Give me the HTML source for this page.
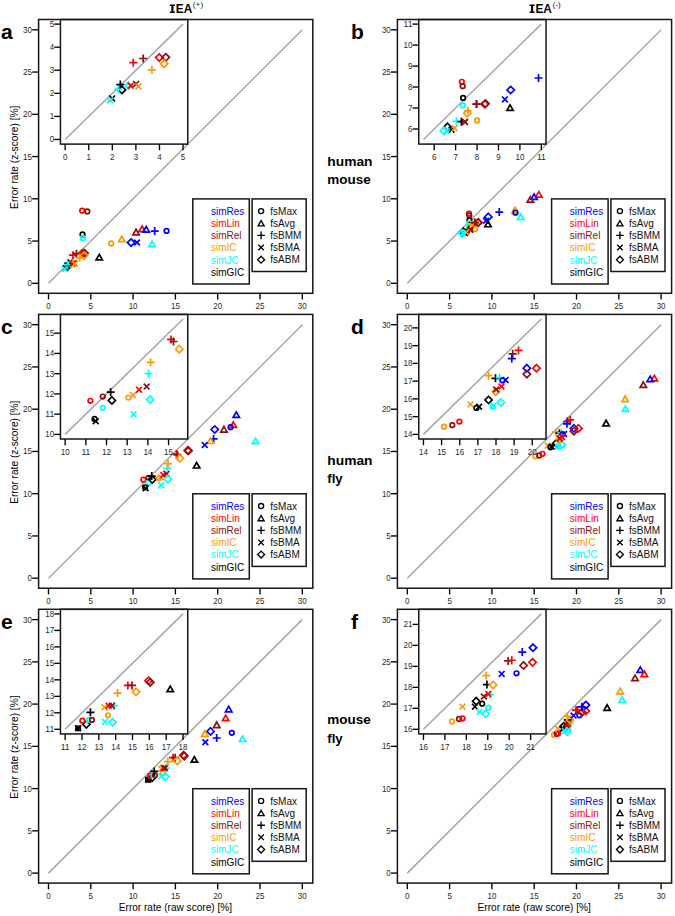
<!DOCTYPE html><html><head><meta charset="utf-8"><style>html,body{margin:0;padding:0;background:#fff;}svg{display:block;}text{font-family:"Liberation Sans",sans-serif;}</style></head><body>
<svg width="675" height="916" viewBox="0 0 675 916">
<rect width="675" height="916" fill="#fff"/>
<clipPath id="cma"><rect x="38.6" y="19.5" width="274.2" height="273.8"/></clipPath>
<line x1="48.50" y1="283.30" x2="302.30" y2="29.80" stroke="#a6a6a6" stroke-width="1.5"/>
<g clip-path="url(#cma)">
<path d="M68.95 255.16H76.95M72.95 251.16V259.16" stroke="#FF0000" stroke-width="1.7" fill="none"/>
<path d="M72.50 253.64H80.50M76.50 249.64V257.64" stroke="#8B1010" stroke-width="1.7" fill="none"/>
<path d="M82.26 249.65L85.91 253.30L82.26 256.95L78.61 253.30Z" stroke="#FF0000" stroke-width="1.7" fill="none" stroke-linejoin="miter"/>
<path d="M84.62 249.57L88.27 253.22L84.62 256.87L80.97 253.22Z" stroke="#8B1010" stroke-width="1.7" fill="none" stroke-linejoin="miter"/>
<path d="M84.03 251.93L87.68 255.58L84.03 259.23L80.38 255.58Z" stroke="#FF9900" stroke-width="1.7" fill="none" stroke-linejoin="miter"/>
<path d="M75.63 257.78H83.63M79.63 253.78V261.78" stroke="#FF9900" stroke-width="1.7" fill="none"/>
<path d="M64.30 263.19H72.30M68.30 259.19V267.19" stroke="#000000" stroke-width="1.7" fill="none"/>
<path d="M68.89 261.48L72.54 265.13L68.89 268.78L65.24 265.13Z" stroke="#000000" stroke-width="1.7" fill="none" stroke-linejoin="miter"/>
<path d="M63.53 264.96H71.53M67.53 260.96V268.96" stroke="#00FFFF" stroke-width="1.7" fill="none"/>
<path d="M71.26 259.96L74.91 263.61L71.26 267.26L67.61 263.61Z" stroke="#00FFFF" stroke-width="1.7" fill="none" stroke-linejoin="miter"/>
<path d="M69.12 260.71L74.92 266.51M69.12 266.51L74.92 260.71" stroke="#FF0000" stroke-width="1.7" fill="none"/>
<path d="M71.06 260.04L76.86 265.84M71.06 265.84L76.86 260.04" stroke="#8B1010" stroke-width="1.7" fill="none"/>
<path d="M71.91 260.97L77.71 266.76M71.91 266.76L77.71 260.97" stroke="#FF9900" stroke-width="1.7" fill="none"/>
<path d="M62.44 265.36L68.24 271.16M62.44 271.16L68.24 265.36" stroke="#000000" stroke-width="1.7" fill="none"/>
<path d="M61.76 266.12L67.56 271.92M61.76 271.92L67.56 266.12" stroke="#00FFFF" stroke-width="1.7" fill="none"/>
<circle cx="82.17" cy="210.63" r="2.30" fill="none" stroke="#FF0000" stroke-width="1.7"/>
<circle cx="87.33" cy="211.48" r="2.30" fill="none" stroke="#8B1010" stroke-width="1.7"/>
<circle cx="82.51" cy="234.46" r="2.30" fill="none" stroke="#000000" stroke-width="1.7"/>
<circle cx="82.85" cy="238.18" r="2.30" fill="none" stroke="#00FFFF" stroke-width="1.7"/>
<circle cx="111.19" cy="243.50" r="2.30" fill="none" stroke="#FF9900" stroke-width="1.7"/>
<polygon points="121.76,236.16 118.56,241.71 124.97,241.71" fill="none" stroke="#FF9900" stroke-width="1.7" stroke-linejoin="miter"/>
<polygon points="136.06,229.23 132.86,234.78 139.27,234.78" fill="none" stroke="#8B1010" stroke-width="1.7" stroke-linejoin="miter"/>
<polygon points="142.15,226.02 138.95,231.57 145.36,231.57" fill="none" stroke="#FF0000" stroke-width="1.7" stroke-linejoin="miter"/>
<polygon points="146.21,226.53 143.01,232.08 149.42,232.08" fill="none" stroke="#0000FF" stroke-width="1.7" stroke-linejoin="miter"/>
<path d="M150.67 231.08H158.67M154.67 227.08V235.08" stroke="#0000FF" stroke-width="1.7" fill="none"/>
<circle cx="166.52" cy="230.91" r="2.30" fill="none" stroke="#0000FF" stroke-width="1.7"/>
<path d="M131.07 238.92L134.72 242.57L131.07 246.22L127.42 242.57Z" stroke="#0000FF" stroke-width="1.7" fill="none" stroke-linejoin="miter"/>
<path d="M134.09 239.67L139.89 245.47M134.09 245.47L139.89 239.67" stroke="#0000FF" stroke-width="1.7" fill="none"/>
<polygon points="152.05,241.15 148.85,246.70 155.25,246.70" fill="none" stroke="#00FFFF" stroke-width="1.7" stroke-linejoin="miter"/>
<polygon points="99.26,254.41 96.06,259.96 102.46,259.96" fill="none" stroke="#000000" stroke-width="1.7" stroke-linejoin="miter"/>
</g>
<line x1="48.50" y1="293.30" x2="48.50" y2="299.50" stroke="#000" stroke-width="1.35"/>
<text x="48.50" y="309.40" font-size="8.6" text-anchor="middle" font-weight="normal" fill="#2a2a2a"  textLength="4.45" lengthAdjust="spacingAndGlyphs">0</text>
<line x1="32.20" y1="283.30" x2="38.60" y2="283.30" stroke="#000" stroke-width="1.35"/>
<text x="32.00" y="286.30" font-size="8.6" text-anchor="end" font-weight="normal" fill="#2a2a2a"  textLength="4.45" lengthAdjust="spacingAndGlyphs">0</text>
<line x1="90.80" y1="293.30" x2="90.80" y2="299.50" stroke="#000" stroke-width="1.35"/>
<text x="90.80" y="309.40" font-size="8.6" text-anchor="middle" font-weight="normal" fill="#2a2a2a"  textLength="4.45" lengthAdjust="spacingAndGlyphs">5</text>
<line x1="32.20" y1="241.05" x2="38.60" y2="241.05" stroke="#000" stroke-width="1.35"/>
<text x="32.00" y="244.05" font-size="8.6" text-anchor="end" font-weight="normal" fill="#2a2a2a"  textLength="4.45" lengthAdjust="spacingAndGlyphs">5</text>
<line x1="133.10" y1="293.30" x2="133.10" y2="299.50" stroke="#000" stroke-width="1.35"/>
<text x="133.10" y="309.40" font-size="8.6" text-anchor="middle" font-weight="normal" fill="#2a2a2a"  textLength="8.90" lengthAdjust="spacingAndGlyphs">10</text>
<line x1="32.20" y1="198.80" x2="38.60" y2="198.80" stroke="#000" stroke-width="1.35"/>
<text x="32.00" y="201.80" font-size="8.6" text-anchor="end" font-weight="normal" fill="#2a2a2a"  textLength="8.90" lengthAdjust="spacingAndGlyphs">10</text>
<line x1="175.40" y1="293.30" x2="175.40" y2="299.50" stroke="#000" stroke-width="1.35"/>
<text x="175.40" y="309.40" font-size="8.6" text-anchor="middle" font-weight="normal" fill="#2a2a2a"  textLength="8.90" lengthAdjust="spacingAndGlyphs">15</text>
<line x1="32.20" y1="156.55" x2="38.60" y2="156.55" stroke="#000" stroke-width="1.35"/>
<text x="32.00" y="159.55" font-size="8.6" text-anchor="end" font-weight="normal" fill="#2a2a2a"  textLength="8.90" lengthAdjust="spacingAndGlyphs">15</text>
<line x1="217.70" y1="293.30" x2="217.70" y2="299.50" stroke="#000" stroke-width="1.35"/>
<text x="217.70" y="309.40" font-size="8.6" text-anchor="middle" font-weight="normal" fill="#2a2a2a"  textLength="8.90" lengthAdjust="spacingAndGlyphs">20</text>
<line x1="32.20" y1="114.30" x2="38.60" y2="114.30" stroke="#000" stroke-width="1.35"/>
<text x="32.00" y="117.30" font-size="8.6" text-anchor="end" font-weight="normal" fill="#2a2a2a"  textLength="8.90" lengthAdjust="spacingAndGlyphs">20</text>
<line x1="260.00" y1="293.30" x2="260.00" y2="299.50" stroke="#000" stroke-width="1.35"/>
<text x="260.00" y="309.40" font-size="8.6" text-anchor="middle" font-weight="normal" fill="#2a2a2a"  textLength="8.90" lengthAdjust="spacingAndGlyphs">25</text>
<line x1="32.20" y1="72.05" x2="38.60" y2="72.05" stroke="#000" stroke-width="1.35"/>
<text x="32.00" y="75.05" font-size="8.6" text-anchor="end" font-weight="normal" fill="#2a2a2a"  textLength="8.90" lengthAdjust="spacingAndGlyphs">25</text>
<line x1="302.30" y1="293.30" x2="302.30" y2="299.50" stroke="#000" stroke-width="1.35"/>
<text x="302.30" y="309.40" font-size="8.6" text-anchor="middle" font-weight="normal" fill="#2a2a2a"  textLength="8.90" lengthAdjust="spacingAndGlyphs">30</text>
<line x1="32.20" y1="29.80" x2="38.60" y2="29.80" stroke="#000" stroke-width="1.35"/>
<text x="32.00" y="32.80" font-size="8.6" text-anchor="end" font-weight="normal" fill="#2a2a2a"  textLength="8.90" lengthAdjust="spacingAndGlyphs">30</text>
<rect x="60.45" y="19.50" width="127.30" height="124.60" fill="#fff"/>
<clipPath id="cia"><rect x="60.45" y="19.50" width="127.30" height="124.60"/></clipPath>
<line x1="65.16" y1="139.49" x2="183.04" y2="24.11" stroke="#a6a6a6" stroke-width="1.5"/>
<g clip-path="url(#cia)">
<path d="M129.29 62.65H137.29M133.29 58.65V66.65" stroke="#FF0000" stroke-width="1.7" fill="none"/>
<path d="M139.19 58.50H147.19M143.19 54.50V62.50" stroke="#8B1010" stroke-width="1.7" fill="none"/>
<path d="M159.23 53.92L162.88 57.57L159.23 61.22L155.58 57.57Z" stroke="#FF0000" stroke-width="1.7" fill="none" stroke-linejoin="miter"/>
<path d="M165.83 53.69L169.48 57.34L165.83 60.99L162.18 57.34Z" stroke="#8B1010" stroke-width="1.7" fill="none" stroke-linejoin="miter"/>
<path d="M164.18 60.15L167.83 63.80L164.18 67.45L160.53 63.80Z" stroke="#FF9900" stroke-width="1.7" fill="none" stroke-linejoin="miter"/>
<path d="M147.92 69.80H155.92M151.92 65.80V73.80" stroke="#FF9900" stroke-width="1.7" fill="none"/>
<path d="M116.33 84.57H124.33M120.33 80.57V88.57" stroke="#000000" stroke-width="1.7" fill="none"/>
<path d="M121.98 86.23L125.63 89.88L121.98 93.53L118.33 89.88Z" stroke="#000000" stroke-width="1.7" fill="none" stroke-linejoin="miter"/>
<path d="M114.21 89.41H122.21M118.21 85.41V93.41" stroke="#00FFFF" stroke-width="1.7" fill="none"/>
<path d="M128.58 82.07L132.23 85.72L128.58 89.37L124.93 85.72Z" stroke="#00FFFF" stroke-width="1.7" fill="none" stroke-linejoin="miter"/>
<path d="M127.80 82.82L133.60 88.62M127.80 88.62L133.60 82.82" stroke="#FF0000" stroke-width="1.7" fill="none"/>
<path d="M133.22 80.98L139.02 86.78M133.22 86.78L139.02 80.98" stroke="#8B1010" stroke-width="1.7" fill="none"/>
<path d="M135.58 83.51L141.38 89.31M135.58 89.31L141.38 83.51" stroke="#FF9900" stroke-width="1.7" fill="none"/>
<path d="M109.18 95.51L114.98 101.31M109.18 101.31L114.98 95.51" stroke="#000000" stroke-width="1.7" fill="none"/>
<path d="M107.29 97.59L113.09 103.39M107.29 103.39L113.09 97.59" stroke="#00FFFF" stroke-width="1.7" fill="none"/>
</g>
<line x1="65.16" y1="144.10" x2="65.16" y2="150.30" stroke="#000" stroke-width="1.35"/>
<text x="65.16" y="160.20" font-size="8.6" text-anchor="middle" font-weight="normal" fill="#2a2a2a"  textLength="4.45" lengthAdjust="spacingAndGlyphs">0</text>
<line x1="54.25" y1="139.49" x2="60.45" y2="139.49" stroke="#000" stroke-width="1.35"/>
<text x="54.15" y="142.49" font-size="8.6" text-anchor="end" font-weight="normal" fill="#2a2a2a"  textLength="4.45" lengthAdjust="spacingAndGlyphs">0</text>
<line x1="88.74" y1="144.10" x2="88.74" y2="150.30" stroke="#000" stroke-width="1.35"/>
<text x="88.74" y="160.20" font-size="8.6" text-anchor="middle" font-weight="normal" fill="#2a2a2a"  textLength="4.45" lengthAdjust="spacingAndGlyphs">1</text>
<line x1="54.25" y1="116.41" x2="60.45" y2="116.41" stroke="#000" stroke-width="1.35"/>
<text x="54.15" y="119.41" font-size="8.6" text-anchor="end" font-weight="normal" fill="#2a2a2a"  textLength="4.45" lengthAdjust="spacingAndGlyphs">1</text>
<line x1="112.31" y1="144.10" x2="112.31" y2="150.30" stroke="#000" stroke-width="1.35"/>
<text x="112.31" y="160.20" font-size="8.6" text-anchor="middle" font-weight="normal" fill="#2a2a2a"  textLength="4.45" lengthAdjust="spacingAndGlyphs">2</text>
<line x1="54.25" y1="93.34" x2="60.45" y2="93.34" stroke="#000" stroke-width="1.35"/>
<text x="54.15" y="96.34" font-size="8.6" text-anchor="end" font-weight="normal" fill="#2a2a2a"  textLength="4.45" lengthAdjust="spacingAndGlyphs">2</text>
<line x1="135.89" y1="144.10" x2="135.89" y2="150.30" stroke="#000" stroke-width="1.35"/>
<text x="135.89" y="160.20" font-size="8.6" text-anchor="middle" font-weight="normal" fill="#2a2a2a"  textLength="4.45" lengthAdjust="spacingAndGlyphs">3</text>
<line x1="54.25" y1="70.26" x2="60.45" y2="70.26" stroke="#000" stroke-width="1.35"/>
<text x="54.15" y="73.26" font-size="8.6" text-anchor="end" font-weight="normal" fill="#2a2a2a"  textLength="4.45" lengthAdjust="spacingAndGlyphs">3</text>
<line x1="159.46" y1="144.10" x2="159.46" y2="150.30" stroke="#000" stroke-width="1.35"/>
<text x="159.46" y="160.20" font-size="8.6" text-anchor="middle" font-weight="normal" fill="#2a2a2a"  textLength="4.45" lengthAdjust="spacingAndGlyphs">4</text>
<line x1="54.25" y1="47.19" x2="60.45" y2="47.19" stroke="#000" stroke-width="1.35"/>
<text x="54.15" y="50.19" font-size="8.6" text-anchor="end" font-weight="normal" fill="#2a2a2a"  textLength="4.45" lengthAdjust="spacingAndGlyphs">4</text>
<line x1="183.04" y1="144.10" x2="183.04" y2="150.30" stroke="#000" stroke-width="1.35"/>
<text x="183.04" y="160.20" font-size="8.6" text-anchor="middle" font-weight="normal" fill="#2a2a2a"  textLength="4.45" lengthAdjust="spacingAndGlyphs">5</text>
<line x1="54.25" y1="24.11" x2="60.45" y2="24.11" stroke="#000" stroke-width="1.35"/>
<text x="54.15" y="27.11" font-size="8.6" text-anchor="end" font-weight="normal" fill="#2a2a2a"  textLength="4.45" lengthAdjust="spacingAndGlyphs">5</text>
<rect x="60.45" y="19.50" width="127.30" height="124.60" fill="none" stroke="#161616" stroke-width="1.5"/>
<rect x="38.60" y="19.50" width="274.20" height="273.80" fill="none" stroke="#161616" stroke-width="1.5"/>
<rect x="192.80" y="198.90" width="56.50" height="85.10" fill="#fff" stroke="#161616" stroke-width="1.5"/>
<text x="211.00" y="214.70" font-size="10" text-anchor="start" font-weight="normal" fill="#0000FF" >simRes</text>
<text x="211.00" y="226.90" font-size="10" text-anchor="start" font-weight="normal" fill="#FF0000" >simLin</text>
<text x="211.00" y="239.10" font-size="10" text-anchor="start" font-weight="normal" fill="#8B1010" >simRel</text>
<text x="211.00" y="251.30" font-size="10" text-anchor="start" font-weight="normal" fill="#FF9900" >simIC</text>
<text x="211.00" y="263.50" font-size="10" text-anchor="start" font-weight="normal" fill="#00FFFF" >simJC</text>
<text x="211.00" y="275.70" font-size="10" text-anchor="start" font-weight="normal" fill="#000000" >simGIC</text>
<rect x="252.10" y="198.90" width="54.10" height="72.60" fill="#fff" stroke="#161616" stroke-width="1.5"/>
<circle cx="261.10" cy="211.10" r="2.53" fill="none" stroke="#000" stroke-width="1.35"/>
<text x="270.30" y="214.80" font-size="10" text-anchor="start" font-weight="normal" fill="#111" >fsMax</text>
<polygon points="261.10,220.61 258.06,225.89 264.14,225.89" fill="none" stroke="#000" stroke-width="1.35" stroke-linejoin="miter"/>
<text x="270.30" y="226.90" font-size="10" text-anchor="start" font-weight="normal" fill="#111" >fsAvg</text>
<path d="M257.30 235.40H264.90M261.10 231.60V239.20" stroke="#000" stroke-width="1.35" fill="none"/>
<text x="270.30" y="239.00" font-size="10" text-anchor="start" font-weight="normal" fill="#111" >fsBMM</text>
<path d="M258.35 244.80L263.86 250.31M258.35 250.31L263.86 244.80" stroke="#000" stroke-width="1.35" fill="none"/>
<text x="270.30" y="251.10" font-size="10" text-anchor="start" font-weight="normal" fill="#111" >fsBMA</text>
<path d="M261.10 256.23L264.57 259.70L261.10 263.17L257.63 259.70Z" stroke="#000" stroke-width="1.35" fill="none" stroke-linejoin="miter"/>
<text x="270.30" y="263.20" font-size="10" text-anchor="start" font-weight="normal" fill="#111" >fsABM</text>
<clipPath id="cmb"><rect x="397.4" y="19.5" width="274.2" height="273.8"/></clipPath>
<line x1="407.30" y1="283.30" x2="661.10" y2="29.80" stroke="#a6a6a6" stroke-width="1.5"/>
<g clip-path="url(#cmb)">
<circle cx="468.97" cy="213.59" r="2.30" fill="none" stroke="#FF0000" stroke-width="1.7"/>
<circle cx="469.31" cy="215.36" r="2.30" fill="none" stroke="#8B1010" stroke-width="1.7"/>
<circle cx="469.48" cy="220.09" r="2.30" fill="none" stroke="#000000" stroke-width="1.7"/>
<circle cx="469.40" cy="223.14" r="2.30" fill="none" stroke="#00FFFF" stroke-width="1.7"/>
<path d="M467.34 225.25H475.34M471.34 221.25V229.25" stroke="#FF9900" stroke-width="1.7" fill="none"/>
<path d="M471.17 222.61L474.82 226.26L471.17 229.91L467.52 226.26Z" stroke="#FF9900" stroke-width="1.7" fill="none" stroke-linejoin="miter"/>
<path d="M470.64 222.54H478.64M474.64 218.54V226.54" stroke="#FF0000" stroke-width="1.7" fill="none"/>
<path d="M470.90 222.54H478.90M474.90 218.54V226.54" stroke="#8B1010" stroke-width="1.7" fill="none"/>
<path d="M478.03 218.98L481.68 222.63L478.03 226.28L474.38 222.63Z" stroke="#FF0000" stroke-width="1.7" fill="none" stroke-linejoin="miter"/>
<path d="M478.28 218.73L481.93 222.38L478.28 226.03L474.63 222.38Z" stroke="#8B1010" stroke-width="1.7" fill="none" stroke-linejoin="miter"/>
<circle cx="474.98" cy="229.14" r="2.30" fill="none" stroke="#FF9900" stroke-width="1.7"/>
<path d="M462.86 229.47H470.86M466.86 225.47V233.47" stroke="#00FFFF" stroke-width="1.7" fill="none"/>
<path d="M464.80 229.64H472.80M468.80 225.64V233.64" stroke="#000000" stroke-width="1.7" fill="none"/>
<path d="M467.26 226.83L473.06 232.63M467.26 232.63L473.06 226.83" stroke="#FF0000" stroke-width="1.7" fill="none"/>
<path d="M467.34 226.91L473.14 232.71M467.34 232.71L473.14 226.91" stroke="#8B1010" stroke-width="1.7" fill="none"/>
<path d="M463.31 228.11L466.96 231.76L463.31 235.41L459.66 231.76Z" stroke="#000000" stroke-width="1.7" fill="none" stroke-linejoin="miter"/>
<path d="M462.01 230.04L467.81 235.84M462.01 235.84L467.81 230.04" stroke="#000000" stroke-width="1.7" fill="none"/>
<path d="M463.20 229.36L469.00 235.16M463.20 235.16L469.00 229.36" stroke="#FF9900" stroke-width="1.7" fill="none"/>
<path d="M461.87 229.63L465.52 233.28L461.87 236.93L458.22 233.28Z" stroke="#00FFFF" stroke-width="1.7" fill="none" stroke-linejoin="miter"/>
<path d="M459.98 230.55L465.78 236.35M459.98 236.35L465.78 230.55" stroke="#00FFFF" stroke-width="1.7" fill="none"/>
<path d="M495.26 212.07H503.26M499.26 208.07V216.07" stroke="#0000FF" stroke-width="1.7" fill="none"/>
<path d="M488.26 213.23L491.91 216.88L488.26 220.53L484.61 216.88Z" stroke="#0000FF" stroke-width="1.7" fill="none" stroke-linejoin="miter"/>
<path d="M483.08 217.79L488.88 223.59M483.08 223.59L488.88 217.79" stroke="#0000FF" stroke-width="1.7" fill="none"/>
<polygon points="488.01,221.21 484.80,226.76 491.21,226.76" fill="none" stroke="#000000" stroke-width="1.7" stroke-linejoin="miter"/>
<polygon points="538.85,191.63 535.65,197.18 542.06,197.18" fill="none" stroke="#FF0000" stroke-width="1.7" stroke-linejoin="miter"/>
<polygon points="534.12,193.91 530.91,199.46 537.32,199.46" fill="none" stroke="#0000FF" stroke-width="1.7" stroke-linejoin="miter"/>
<polygon points="530.31,196.62 527.10,202.17 533.51,202.17" fill="none" stroke="#8B1010" stroke-width="1.7" stroke-linejoin="miter"/>
<polygon points="515.00,207.26 511.79,212.81 518.20,212.81" fill="none" stroke="#FF9900" stroke-width="1.7" stroke-linejoin="miter"/>
<circle cx="515.50" cy="212.66" r="2.30" fill="none" stroke="#0000FF" stroke-width="1.7"/>
<polygon points="520.75,214.02 517.54,219.57 523.95,219.57" fill="none" stroke="#00FFFF" stroke-width="1.7" stroke-linejoin="miter"/>
</g>
<line x1="407.30" y1="293.30" x2="407.30" y2="299.50" stroke="#000" stroke-width="1.35"/>
<text x="407.30" y="309.40" font-size="8.6" text-anchor="middle" font-weight="normal" fill="#2a2a2a"  textLength="4.45" lengthAdjust="spacingAndGlyphs">0</text>
<line x1="391.00" y1="283.30" x2="397.40" y2="283.30" stroke="#000" stroke-width="1.35"/>
<text x="390.80" y="286.30" font-size="8.6" text-anchor="end" font-weight="normal" fill="#2a2a2a"  textLength="4.45" lengthAdjust="spacingAndGlyphs">0</text>
<line x1="449.60" y1="293.30" x2="449.60" y2="299.50" stroke="#000" stroke-width="1.35"/>
<text x="449.60" y="309.40" font-size="8.6" text-anchor="middle" font-weight="normal" fill="#2a2a2a"  textLength="4.45" lengthAdjust="spacingAndGlyphs">5</text>
<line x1="391.00" y1="241.05" x2="397.40" y2="241.05" stroke="#000" stroke-width="1.35"/>
<text x="390.80" y="244.05" font-size="8.6" text-anchor="end" font-weight="normal" fill="#2a2a2a"  textLength="4.45" lengthAdjust="spacingAndGlyphs">5</text>
<line x1="491.90" y1="293.30" x2="491.90" y2="299.50" stroke="#000" stroke-width="1.35"/>
<text x="491.90" y="309.40" font-size="8.6" text-anchor="middle" font-weight="normal" fill="#2a2a2a"  textLength="8.90" lengthAdjust="spacingAndGlyphs">10</text>
<line x1="391.00" y1="198.80" x2="397.40" y2="198.80" stroke="#000" stroke-width="1.35"/>
<text x="390.80" y="201.80" font-size="8.6" text-anchor="end" font-weight="normal" fill="#2a2a2a"  textLength="8.90" lengthAdjust="spacingAndGlyphs">10</text>
<line x1="534.20" y1="293.30" x2="534.20" y2="299.50" stroke="#000" stroke-width="1.35"/>
<text x="534.20" y="309.40" font-size="8.6" text-anchor="middle" font-weight="normal" fill="#2a2a2a"  textLength="8.90" lengthAdjust="spacingAndGlyphs">15</text>
<line x1="391.00" y1="156.55" x2="397.40" y2="156.55" stroke="#000" stroke-width="1.35"/>
<text x="390.80" y="159.55" font-size="8.6" text-anchor="end" font-weight="normal" fill="#2a2a2a"  textLength="8.90" lengthAdjust="spacingAndGlyphs">15</text>
<line x1="576.50" y1="293.30" x2="576.50" y2="299.50" stroke="#000" stroke-width="1.35"/>
<text x="576.50" y="309.40" font-size="8.6" text-anchor="middle" font-weight="normal" fill="#2a2a2a"  textLength="8.90" lengthAdjust="spacingAndGlyphs">20</text>
<line x1="391.00" y1="114.30" x2="397.40" y2="114.30" stroke="#000" stroke-width="1.35"/>
<text x="390.80" y="117.30" font-size="8.6" text-anchor="end" font-weight="normal" fill="#2a2a2a"  textLength="8.90" lengthAdjust="spacingAndGlyphs">20</text>
<line x1="618.80" y1="293.30" x2="618.80" y2="299.50" stroke="#000" stroke-width="1.35"/>
<text x="618.80" y="309.40" font-size="8.6" text-anchor="middle" font-weight="normal" fill="#2a2a2a"  textLength="8.90" lengthAdjust="spacingAndGlyphs">25</text>
<line x1="391.00" y1="72.05" x2="397.40" y2="72.05" stroke="#000" stroke-width="1.35"/>
<text x="390.80" y="75.05" font-size="8.6" text-anchor="end" font-weight="normal" fill="#2a2a2a"  textLength="8.90" lengthAdjust="spacingAndGlyphs">25</text>
<line x1="661.10" y1="293.30" x2="661.10" y2="299.50" stroke="#000" stroke-width="1.35"/>
<text x="661.10" y="309.40" font-size="8.6" text-anchor="middle" font-weight="normal" fill="#2a2a2a"  textLength="8.90" lengthAdjust="spacingAndGlyphs">30</text>
<line x1="391.00" y1="29.80" x2="397.40" y2="29.80" stroke="#000" stroke-width="1.35"/>
<text x="390.80" y="32.80" font-size="8.6" text-anchor="end" font-weight="normal" fill="#2a2a2a"  textLength="8.90" lengthAdjust="spacingAndGlyphs">30</text>
<rect x="418.75" y="19.50" width="127.30" height="124.60" fill="#fff"/>
<clipPath id="cib"><rect x="418.75" y="19.50" width="127.30" height="124.60"/></clipPath>
<line x1="423.46" y1="139.49" x2="541.34" y2="24.11" stroke="#a6a6a6" stroke-width="1.5"/>
<g clip-path="url(#cib)">
<circle cx="461.83" cy="81.80" r="2.30" fill="none" stroke="#FF0000" stroke-width="1.7"/>
<circle cx="462.68" cy="86.21" r="2.30" fill="none" stroke="#8B1010" stroke-width="1.7"/>
<circle cx="463.11" cy="97.95" r="2.30" fill="none" stroke="#000000" stroke-width="1.7"/>
<circle cx="462.90" cy="105.50" r="2.30" fill="none" stroke="#00FFFF" stroke-width="1.7"/>
<path d="M463.83 110.75H471.83M467.83 106.75V114.75" stroke="#FF9900" stroke-width="1.7" fill="none"/>
<path d="M467.40 109.61L471.05 113.26L467.40 116.91L463.75 113.26Z" stroke="#FF9900" stroke-width="1.7" fill="none" stroke-linejoin="miter"/>
<path d="M472.19 104.04H480.19M476.19 100.04V108.04" stroke="#FF0000" stroke-width="1.7" fill="none"/>
<path d="M472.83 104.04H480.83M476.83 100.04V108.04" stroke="#8B1010" stroke-width="1.7" fill="none"/>
<path d="M484.76 100.59L488.41 104.24L484.76 107.89L481.11 104.24Z" stroke="#FF0000" stroke-width="1.7" fill="none" stroke-linejoin="miter"/>
<path d="M485.40 99.97L489.05 103.62L485.40 107.27L481.75 103.62Z" stroke="#8B1010" stroke-width="1.7" fill="none" stroke-linejoin="miter"/>
<circle cx="477.04" cy="120.40" r="2.30" fill="none" stroke="#FF9900" stroke-width="1.7"/>
<path d="M452.47 121.24H460.47M456.47 117.24V125.24" stroke="#00FFFF" stroke-width="1.7" fill="none"/>
<path d="M457.40 121.66H465.40M461.40 117.66V125.66" stroke="#000000" stroke-width="1.7" fill="none"/>
<path d="M461.93 118.96L467.73 124.76M461.93 124.76L467.73 118.96" stroke="#FF0000" stroke-width="1.7" fill="none"/>
<path d="M462.14 119.17L467.94 124.97M462.14 124.97L467.94 119.17" stroke="#8B1010" stroke-width="1.7" fill="none"/>
<path d="M447.47 123.25L451.12 126.90L447.47 130.55L443.82 126.90Z" stroke="#000000" stroke-width="1.7" fill="none" stroke-linejoin="miter"/>
<path d="M448.64 126.94L454.44 132.74M448.64 132.74L454.44 126.94" stroke="#000000" stroke-width="1.7" fill="none"/>
<path d="M451.64 125.26L457.44 131.06M451.64 131.06L457.44 125.26" stroke="#FF9900" stroke-width="1.7" fill="none"/>
<path d="M443.82 127.03L447.47 130.68L443.82 134.33L440.17 130.68Z" stroke="#00FFFF" stroke-width="1.7" fill="none" stroke-linejoin="miter"/>
<path d="M443.50 128.19L449.30 133.99M443.50 133.99L449.30 128.19" stroke="#00FFFF" stroke-width="1.7" fill="none"/>
<path d="M534.55 78.02H542.55M538.55 74.02V82.02" stroke="#0000FF" stroke-width="1.7" fill="none"/>
<path d="M510.69 86.33L514.34 89.98L510.69 93.63L507.04 89.98Z" stroke="#0000FF" stroke-width="1.7" fill="none" stroke-linejoin="miter"/>
<path d="M502.00 96.52L507.80 102.32M502.00 102.32L507.80 96.52" stroke="#0000FF" stroke-width="1.7" fill="none"/>
<polygon points="510.05,104.83 506.84,110.38 513.25,110.38" fill="none" stroke="#000000" stroke-width="1.7" stroke-linejoin="miter"/>
</g>
<line x1="434.18" y1="144.10" x2="434.18" y2="150.30" stroke="#000" stroke-width="1.35"/>
<text x="434.18" y="160.20" font-size="8.6" text-anchor="middle" font-weight="normal" fill="#2a2a2a"  textLength="4.45" lengthAdjust="spacingAndGlyphs">6</text>
<line x1="412.55" y1="129.00" x2="418.75" y2="129.00" stroke="#000" stroke-width="1.35"/>
<text x="412.45" y="132.00" font-size="8.6" text-anchor="end" font-weight="normal" fill="#2a2a2a"  textLength="4.45" lengthAdjust="spacingAndGlyphs">6</text>
<line x1="455.61" y1="144.10" x2="455.61" y2="150.30" stroke="#000" stroke-width="1.35"/>
<text x="455.61" y="160.20" font-size="8.6" text-anchor="middle" font-weight="normal" fill="#2a2a2a"  textLength="4.45" lengthAdjust="spacingAndGlyphs">7</text>
<line x1="412.55" y1="108.02" x2="418.75" y2="108.02" stroke="#000" stroke-width="1.35"/>
<text x="412.45" y="111.02" font-size="8.6" text-anchor="end" font-weight="normal" fill="#2a2a2a"  textLength="4.45" lengthAdjust="spacingAndGlyphs">7</text>
<line x1="477.04" y1="144.10" x2="477.04" y2="150.30" stroke="#000" stroke-width="1.35"/>
<text x="477.04" y="160.20" font-size="8.6" text-anchor="middle" font-weight="normal" fill="#2a2a2a"  textLength="4.45" lengthAdjust="spacingAndGlyphs">8</text>
<line x1="412.55" y1="87.04" x2="418.75" y2="87.04" stroke="#000" stroke-width="1.35"/>
<text x="412.45" y="90.04" font-size="8.6" text-anchor="end" font-weight="normal" fill="#2a2a2a"  textLength="4.45" lengthAdjust="spacingAndGlyphs">8</text>
<line x1="498.47" y1="144.10" x2="498.47" y2="150.30" stroke="#000" stroke-width="1.35"/>
<text x="498.47" y="160.20" font-size="8.6" text-anchor="middle" font-weight="normal" fill="#2a2a2a"  textLength="4.45" lengthAdjust="spacingAndGlyphs">9</text>
<line x1="412.55" y1="66.07" x2="418.75" y2="66.07" stroke="#000" stroke-width="1.35"/>
<text x="412.45" y="69.07" font-size="8.6" text-anchor="end" font-weight="normal" fill="#2a2a2a"  textLength="4.45" lengthAdjust="spacingAndGlyphs">9</text>
<line x1="519.90" y1="144.10" x2="519.90" y2="150.30" stroke="#000" stroke-width="1.35"/>
<text x="519.90" y="160.20" font-size="8.6" text-anchor="middle" font-weight="normal" fill="#2a2a2a"  textLength="8.90" lengthAdjust="spacingAndGlyphs">10</text>
<line x1="412.55" y1="45.09" x2="418.75" y2="45.09" stroke="#000" stroke-width="1.35"/>
<text x="412.45" y="48.09" font-size="8.6" text-anchor="end" font-weight="normal" fill="#2a2a2a"  textLength="8.90" lengthAdjust="spacingAndGlyphs">10</text>
<line x1="541.34" y1="144.10" x2="541.34" y2="150.30" stroke="#000" stroke-width="1.35"/>
<text x="541.34" y="160.20" font-size="8.6" text-anchor="middle" font-weight="normal" fill="#2a2a2a"  textLength="8.90" lengthAdjust="spacingAndGlyphs">11</text>
<line x1="412.55" y1="24.11" x2="418.75" y2="24.11" stroke="#000" stroke-width="1.35"/>
<text x="412.45" y="27.11" font-size="8.6" text-anchor="end" font-weight="normal" fill="#2a2a2a"  textLength="8.90" lengthAdjust="spacingAndGlyphs">11</text>
<rect x="418.75" y="19.50" width="127.30" height="124.60" fill="none" stroke="#161616" stroke-width="1.5"/>
<rect x="397.40" y="19.50" width="274.20" height="273.80" fill="none" stroke="#161616" stroke-width="1.5"/>
<rect x="551.60" y="198.90" width="56.50" height="85.10" fill="#fff" stroke="#161616" stroke-width="1.5"/>
<text x="569.80" y="214.70" font-size="10" text-anchor="start" font-weight="normal" fill="#0000FF" >simRes</text>
<text x="569.80" y="226.90" font-size="10" text-anchor="start" font-weight="normal" fill="#FF0000" >simLin</text>
<text x="569.80" y="239.10" font-size="10" text-anchor="start" font-weight="normal" fill="#8B1010" >simRel</text>
<text x="569.80" y="251.30" font-size="10" text-anchor="start" font-weight="normal" fill="#FF9900" >simIC</text>
<text x="569.80" y="263.50" font-size="10" text-anchor="start" font-weight="normal" fill="#00FFFF" >simJC</text>
<text x="569.80" y="275.70" font-size="10" text-anchor="start" font-weight="normal" fill="#000000" >simGIC</text>
<rect x="610.90" y="198.90" width="54.10" height="72.60" fill="#fff" stroke="#161616" stroke-width="1.5"/>
<circle cx="619.90" cy="211.10" r="2.53" fill="none" stroke="#000" stroke-width="1.35"/>
<text x="629.10" y="214.80" font-size="10" text-anchor="start" font-weight="normal" fill="#111" >fsMax</text>
<polygon points="619.90,220.61 616.86,225.89 622.94,225.89" fill="none" stroke="#000" stroke-width="1.35" stroke-linejoin="miter"/>
<text x="629.10" y="226.90" font-size="10" text-anchor="start" font-weight="normal" fill="#111" >fsAvg</text>
<path d="M616.10 235.40H623.70M619.90 231.60V239.20" stroke="#000" stroke-width="1.35" fill="none"/>
<text x="629.10" y="239.00" font-size="10" text-anchor="start" font-weight="normal" fill="#111" >fsBMM</text>
<path d="M617.14 244.80L622.65 250.31M617.14 250.31L622.65 244.80" stroke="#000" stroke-width="1.35" fill="none"/>
<text x="629.10" y="251.10" font-size="10" text-anchor="start" font-weight="normal" fill="#111" >fsBMA</text>
<path d="M619.90 256.23L623.37 259.70L619.90 263.17L616.43 259.70Z" stroke="#000" stroke-width="1.35" fill="none" stroke-linejoin="miter"/>
<text x="629.10" y="263.20" font-size="10" text-anchor="start" font-weight="normal" fill="#111" >fsABM</text>
<clipPath id="cmc"><rect x="38.6" y="314.4" width="274.2" height="273.8"/></clipPath>
<line x1="48.50" y1="578.20" x2="302.30" y2="324.70" stroke="#a6a6a6" stroke-width="1.5"/>
<g clip-path="url(#cmc)">
<circle cx="143.42" cy="479.67" r="2.30" fill="none" stroke="#FF0000" stroke-width="1.7"/>
<circle cx="148.50" cy="477.90" r="2.30" fill="none" stroke="#8B1010" stroke-width="1.7"/>
<circle cx="148.50" cy="482.63" r="2.30" fill="none" stroke="#00FFFF" stroke-width="1.7"/>
<circle cx="145.11" cy="487.28" r="2.30" fill="none" stroke="#000000" stroke-width="1.7"/>
<path d="M142.72 485.31L148.52 491.11M142.72 491.11L148.52 485.31" stroke="#000000" stroke-width="1.7" fill="none"/>
<path d="M147.71 476.04H155.71M151.71 472.04V480.04" stroke="#000000" stroke-width="1.7" fill="none"/>
<path d="M152.22 475.85L155.87 479.50L152.22 483.15L148.57 479.50Z" stroke="#000000" stroke-width="1.7" fill="none" stroke-linejoin="miter"/>
<circle cx="158.99" cy="478.32" r="2.30" fill="none" stroke="#FF9900" stroke-width="1.7"/>
<path d="M157.95 474.41L163.75 480.21M157.95 480.21L163.75 474.41" stroke="#FF9900" stroke-width="1.7" fill="none"/>
<path d="M160.40 472.13L166.20 477.93M160.40 477.93L166.20 472.13" stroke="#FF0000" stroke-width="1.7" fill="none"/>
<path d="M163.53 470.86L169.33 476.66M163.53 476.66L169.33 470.86" stroke="#8B1010" stroke-width="1.7" fill="none"/>
<path d="M158.20 482.35L164.00 488.15M158.20 488.15L164.00 482.35" stroke="#00FFFF" stroke-width="1.7" fill="none"/>
<path d="M167.87 475.52L171.52 479.17L167.87 482.82L164.22 479.17Z" stroke="#00FFFF" stroke-width="1.7" fill="none" stroke-linejoin="miter"/>
<path d="M163.19 468.35H171.19M167.19 464.35V472.35" stroke="#00FFFF" stroke-width="1.7" fill="none"/>
<path d="M164.04 463.62H172.04M168.04 459.62V467.62" stroke="#FF9900" stroke-width="1.7" fill="none"/>
<path d="M172.42 454.07H180.42M176.42 450.07V458.07" stroke="#FF0000" stroke-width="1.7" fill="none"/>
<path d="M173.43 454.91H181.43M177.43 450.91V458.91" stroke="#8B1010" stroke-width="1.7" fill="none"/>
<path d="M179.80 454.48L183.45 458.13L179.80 461.78L176.15 458.13Z" stroke="#FF9900" stroke-width="1.7" fill="none" stroke-linejoin="miter"/>
<polygon points="236.31,411.92 233.11,417.47 239.52,417.47" fill="none" stroke="#0000FF" stroke-width="1.7" stroke-linejoin="miter"/>
<polygon points="233.27,421.89 230.06,427.44 236.47,427.44" fill="none" stroke="#FF0000" stroke-width="1.7" stroke-linejoin="miter"/>
<circle cx="230.56" cy="427.20" r="2.30" fill="none" stroke="#0000FF" stroke-width="1.7"/>
<polygon points="223.96,426.54 220.76,432.09 227.16,432.09" fill="none" stroke="#8B1010" stroke-width="1.7" stroke-linejoin="miter"/>
<path d="M214.74 425.83L218.39 429.48L214.74 433.13L211.09 429.48Z" stroke="#0000FF" stroke-width="1.7" fill="none" stroke-linejoin="miter"/>
<path d="M209.64 438.78H217.64M213.64 434.78V442.78" stroke="#0000FF" stroke-width="1.7" fill="none"/>
<polygon points="210.51,437.94 207.30,443.49 213.71,443.49" fill="none" stroke="#FF9900" stroke-width="1.7" stroke-linejoin="miter"/>
<path d="M201.86 442.13L207.66 447.93M201.86 447.93L207.66 442.13" stroke="#0000FF" stroke-width="1.7" fill="none"/>
<polygon points="255.43,438.11 252.23,443.66 258.64,443.66" fill="none" stroke="#00FFFF" stroke-width="1.7" stroke-linejoin="miter"/>
<path d="M187.67 446.79L191.32 450.44L187.67 454.09L184.02 450.44Z" stroke="#FF0000" stroke-width="1.7" fill="none" stroke-linejoin="miter"/>
<path d="M188.51 447.12L192.16 450.77L188.51 454.42L184.86 450.77Z" stroke="#8B1010" stroke-width="1.7" fill="none" stroke-linejoin="miter"/>
<polygon points="196.63,462.45 193.43,468.00 199.84,468.00" fill="none" stroke="#000000" stroke-width="1.7" stroke-linejoin="miter"/>
</g>
<line x1="48.50" y1="588.20" x2="48.50" y2="594.40" stroke="#000" stroke-width="1.35"/>
<text x="48.50" y="604.30" font-size="8.6" text-anchor="middle" font-weight="normal" fill="#2a2a2a"  textLength="4.45" lengthAdjust="spacingAndGlyphs">0</text>
<line x1="32.20" y1="578.20" x2="38.60" y2="578.20" stroke="#000" stroke-width="1.35"/>
<text x="32.00" y="581.20" font-size="8.6" text-anchor="end" font-weight="normal" fill="#2a2a2a"  textLength="4.45" lengthAdjust="spacingAndGlyphs">0</text>
<line x1="90.80" y1="588.20" x2="90.80" y2="594.40" stroke="#000" stroke-width="1.35"/>
<text x="90.80" y="604.30" font-size="8.6" text-anchor="middle" font-weight="normal" fill="#2a2a2a"  textLength="4.45" lengthAdjust="spacingAndGlyphs">5</text>
<line x1="32.20" y1="535.95" x2="38.60" y2="535.95" stroke="#000" stroke-width="1.35"/>
<text x="32.00" y="538.95" font-size="8.6" text-anchor="end" font-weight="normal" fill="#2a2a2a"  textLength="4.45" lengthAdjust="spacingAndGlyphs">5</text>
<line x1="133.10" y1="588.20" x2="133.10" y2="594.40" stroke="#000" stroke-width="1.35"/>
<text x="133.10" y="604.30" font-size="8.6" text-anchor="middle" font-weight="normal" fill="#2a2a2a"  textLength="8.90" lengthAdjust="spacingAndGlyphs">10</text>
<line x1="32.20" y1="493.70" x2="38.60" y2="493.70" stroke="#000" stroke-width="1.35"/>
<text x="32.00" y="496.70" font-size="8.6" text-anchor="end" font-weight="normal" fill="#2a2a2a"  textLength="8.90" lengthAdjust="spacingAndGlyphs">10</text>
<line x1="175.40" y1="588.20" x2="175.40" y2="594.40" stroke="#000" stroke-width="1.35"/>
<text x="175.40" y="604.30" font-size="8.6" text-anchor="middle" font-weight="normal" fill="#2a2a2a"  textLength="8.90" lengthAdjust="spacingAndGlyphs">15</text>
<line x1="32.20" y1="451.45" x2="38.60" y2="451.45" stroke="#000" stroke-width="1.35"/>
<text x="32.00" y="454.45" font-size="8.6" text-anchor="end" font-weight="normal" fill="#2a2a2a"  textLength="8.90" lengthAdjust="spacingAndGlyphs">15</text>
<line x1="217.70" y1="588.20" x2="217.70" y2="594.40" stroke="#000" stroke-width="1.35"/>
<text x="217.70" y="604.30" font-size="8.6" text-anchor="middle" font-weight="normal" fill="#2a2a2a"  textLength="8.90" lengthAdjust="spacingAndGlyphs">20</text>
<line x1="32.20" y1="409.20" x2="38.60" y2="409.20" stroke="#000" stroke-width="1.35"/>
<text x="32.00" y="412.20" font-size="8.6" text-anchor="end" font-weight="normal" fill="#2a2a2a"  textLength="8.90" lengthAdjust="spacingAndGlyphs">20</text>
<line x1="260.00" y1="588.20" x2="260.00" y2="594.40" stroke="#000" stroke-width="1.35"/>
<text x="260.00" y="604.30" font-size="8.6" text-anchor="middle" font-weight="normal" fill="#2a2a2a"  textLength="8.90" lengthAdjust="spacingAndGlyphs">25</text>
<line x1="32.20" y1="366.95" x2="38.60" y2="366.95" stroke="#000" stroke-width="1.35"/>
<text x="32.00" y="369.95" font-size="8.6" text-anchor="end" font-weight="normal" fill="#2a2a2a"  textLength="8.90" lengthAdjust="spacingAndGlyphs">25</text>
<line x1="302.30" y1="588.20" x2="302.30" y2="594.40" stroke="#000" stroke-width="1.35"/>
<text x="302.30" y="604.30" font-size="8.6" text-anchor="middle" font-weight="normal" fill="#2a2a2a"  textLength="8.90" lengthAdjust="spacingAndGlyphs">30</text>
<line x1="32.20" y1="324.70" x2="38.60" y2="324.70" stroke="#000" stroke-width="1.35"/>
<text x="32.00" y="327.70" font-size="8.6" text-anchor="end" font-weight="normal" fill="#2a2a2a"  textLength="8.90" lengthAdjust="spacingAndGlyphs">30</text>
<rect x="60.45" y="314.40" width="127.30" height="124.60" fill="#fff"/>
<clipPath id="cic"><rect x="60.45" y="314.40" width="127.30" height="124.60"/></clipPath>
<line x1="65.16" y1="434.39" x2="183.04" y2="319.01" stroke="#a6a6a6" stroke-width="1.5"/>
<g clip-path="url(#cic)">
<circle cx="90.39" cy="400.79" r="2.30" fill="none" stroke="#FF0000" stroke-width="1.7"/>
<circle cx="102.80" cy="396.54" r="2.30" fill="none" stroke="#8B1010" stroke-width="1.7"/>
<circle cx="102.80" cy="407.87" r="2.30" fill="none" stroke="#00FFFF" stroke-width="1.7"/>
<circle cx="94.53" cy="419.00" r="2.30" fill="none" stroke="#000000" stroke-width="1.7"/>
<path d="M92.87 418.33L98.67 424.13M92.87 424.13L98.67 418.33" stroke="#000000" stroke-width="1.7" fill="none"/>
<path d="M106.66 392.08H114.66M110.66 388.08V396.08" stroke="#000000" stroke-width="1.7" fill="none"/>
<path d="M111.90 396.73L115.55 400.38L111.90 404.03L108.25 400.38Z" stroke="#000000" stroke-width="1.7" fill="none" stroke-linejoin="miter"/>
<circle cx="128.44" cy="397.55" r="2.30" fill="none" stroke="#FF9900" stroke-width="1.7"/>
<path d="M130.09 392.22L135.89 398.02M130.09 398.02L135.89 392.22" stroke="#FF9900" stroke-width="1.7" fill="none"/>
<path d="M136.09 386.75L141.89 392.55M136.09 392.55L141.89 386.75" stroke="#FF0000" stroke-width="1.7" fill="none"/>
<path d="M143.74 383.72L149.54 389.52M143.74 389.52L149.54 383.72" stroke="#8B1010" stroke-width="1.7" fill="none"/>
<path d="M130.71 411.24L136.51 417.04M130.71 417.04L136.51 411.24" stroke="#00FFFF" stroke-width="1.7" fill="none"/>
<path d="M150.16 395.92L153.81 399.57L150.16 403.22L146.51 399.57Z" stroke="#00FFFF" stroke-width="1.7" fill="none" stroke-linejoin="miter"/>
<path d="M144.50 373.66H152.50M148.50 369.66V377.66" stroke="#00FFFF" stroke-width="1.7" fill="none"/>
<path d="M146.57 362.33H154.57M150.57 358.33V366.33" stroke="#FF9900" stroke-width="1.7" fill="none"/>
<path d="M167.04 339.46H175.04M171.04 335.46V343.46" stroke="#FF0000" stroke-width="1.7" fill="none"/>
<path d="M169.52 341.48H177.52M173.52 337.48V345.48" stroke="#8B1010" stroke-width="1.7" fill="none"/>
<path d="M179.31 345.52L182.96 349.17L179.31 352.82L175.66 349.17Z" stroke="#FF9900" stroke-width="1.7" fill="none" stroke-linejoin="miter"/>
</g>
<line x1="65.16" y1="439.00" x2="65.16" y2="445.20" stroke="#000" stroke-width="1.35"/>
<text x="65.16" y="455.10" font-size="8.6" text-anchor="middle" font-weight="normal" fill="#2a2a2a"  textLength="8.90" lengthAdjust="spacingAndGlyphs">10</text>
<line x1="54.25" y1="434.39" x2="60.45" y2="434.39" stroke="#000" stroke-width="1.35"/>
<text x="54.15" y="437.39" font-size="8.6" text-anchor="end" font-weight="normal" fill="#2a2a2a"  textLength="8.90" lengthAdjust="spacingAndGlyphs">10</text>
<line x1="85.84" y1="439.00" x2="85.84" y2="445.20" stroke="#000" stroke-width="1.35"/>
<text x="85.84" y="455.10" font-size="8.6" text-anchor="middle" font-weight="normal" fill="#2a2a2a"  textLength="8.90" lengthAdjust="spacingAndGlyphs">11</text>
<line x1="54.25" y1="414.14" x2="60.45" y2="414.14" stroke="#000" stroke-width="1.35"/>
<text x="54.15" y="417.14" font-size="8.6" text-anchor="end" font-weight="normal" fill="#2a2a2a"  textLength="8.90" lengthAdjust="spacingAndGlyphs">11</text>
<line x1="106.52" y1="439.00" x2="106.52" y2="445.20" stroke="#000" stroke-width="1.35"/>
<text x="106.52" y="455.10" font-size="8.6" text-anchor="middle" font-weight="normal" fill="#2a2a2a"  textLength="8.90" lengthAdjust="spacingAndGlyphs">12</text>
<line x1="54.25" y1="393.90" x2="60.45" y2="393.90" stroke="#000" stroke-width="1.35"/>
<text x="54.15" y="396.90" font-size="8.6" text-anchor="end" font-weight="normal" fill="#2a2a2a"  textLength="8.90" lengthAdjust="spacingAndGlyphs">12</text>
<line x1="127.20" y1="439.00" x2="127.20" y2="445.20" stroke="#000" stroke-width="1.35"/>
<text x="127.20" y="455.10" font-size="8.6" text-anchor="middle" font-weight="normal" fill="#2a2a2a"  textLength="8.90" lengthAdjust="spacingAndGlyphs">13</text>
<line x1="54.25" y1="373.66" x2="60.45" y2="373.66" stroke="#000" stroke-width="1.35"/>
<text x="54.15" y="376.66" font-size="8.6" text-anchor="end" font-weight="normal" fill="#2a2a2a"  textLength="8.90" lengthAdjust="spacingAndGlyphs">13</text>
<line x1="147.88" y1="439.00" x2="147.88" y2="445.20" stroke="#000" stroke-width="1.35"/>
<text x="147.88" y="455.10" font-size="8.6" text-anchor="middle" font-weight="normal" fill="#2a2a2a"  textLength="8.90" lengthAdjust="spacingAndGlyphs">14</text>
<line x1="54.25" y1="353.42" x2="60.45" y2="353.42" stroke="#000" stroke-width="1.35"/>
<text x="54.15" y="356.42" font-size="8.6" text-anchor="end" font-weight="normal" fill="#2a2a2a"  textLength="8.90" lengthAdjust="spacingAndGlyphs">14</text>
<line x1="168.56" y1="439.00" x2="168.56" y2="445.20" stroke="#000" stroke-width="1.35"/>
<text x="168.56" y="455.10" font-size="8.6" text-anchor="middle" font-weight="normal" fill="#2a2a2a"  textLength="8.90" lengthAdjust="spacingAndGlyphs">15</text>
<line x1="54.25" y1="333.18" x2="60.45" y2="333.18" stroke="#000" stroke-width="1.35"/>
<text x="54.15" y="336.18" font-size="8.6" text-anchor="end" font-weight="normal" fill="#2a2a2a"  textLength="8.90" lengthAdjust="spacingAndGlyphs">15</text>
<rect x="60.45" y="314.40" width="127.30" height="124.60" fill="none" stroke="#161616" stroke-width="1.5"/>
<rect x="38.60" y="314.40" width="274.20" height="273.80" fill="none" stroke="#161616" stroke-width="1.5"/>
<rect x="192.80" y="493.80" width="56.50" height="85.10" fill="#fff" stroke="#161616" stroke-width="1.5"/>
<text x="211.00" y="509.60" font-size="10" text-anchor="start" font-weight="normal" fill="#0000FF" >simRes</text>
<text x="211.00" y="521.80" font-size="10" text-anchor="start" font-weight="normal" fill="#FF0000" >simLin</text>
<text x="211.00" y="534.00" font-size="10" text-anchor="start" font-weight="normal" fill="#8B1010" >simRel</text>
<text x="211.00" y="546.20" font-size="10" text-anchor="start" font-weight="normal" fill="#FF9900" >simIC</text>
<text x="211.00" y="558.40" font-size="10" text-anchor="start" font-weight="normal" fill="#00FFFF" >simJC</text>
<text x="211.00" y="570.60" font-size="10" text-anchor="start" font-weight="normal" fill="#000000" >simGIC</text>
<rect x="252.10" y="493.80" width="54.10" height="72.60" fill="#fff" stroke="#161616" stroke-width="1.5"/>
<circle cx="261.10" cy="506.00" r="2.53" fill="none" stroke="#000" stroke-width="1.35"/>
<text x="270.30" y="509.70" font-size="10" text-anchor="start" font-weight="normal" fill="#111" >fsMax</text>
<polygon points="261.10,515.51 258.06,520.79 264.14,520.79" fill="none" stroke="#000" stroke-width="1.35" stroke-linejoin="miter"/>
<text x="270.30" y="521.80" font-size="10" text-anchor="start" font-weight="normal" fill="#111" >fsAvg</text>
<path d="M257.30 530.30H264.90M261.10 526.50V534.10" stroke="#000" stroke-width="1.35" fill="none"/>
<text x="270.30" y="533.90" font-size="10" text-anchor="start" font-weight="normal" fill="#111" >fsBMM</text>
<path d="M258.35 539.70L263.86 545.21M258.35 545.21L263.86 539.70" stroke="#000" stroke-width="1.35" fill="none"/>
<text x="270.30" y="546.00" font-size="10" text-anchor="start" font-weight="normal" fill="#111" >fsBMA</text>
<path d="M261.10 551.13L264.57 554.60L261.10 558.07L257.63 554.60Z" stroke="#000" stroke-width="1.35" fill="none" stroke-linejoin="miter"/>
<text x="270.30" y="558.10" font-size="10" text-anchor="start" font-weight="normal" fill="#111" >fsABM</text>
<clipPath id="cmd"><rect x="397.4" y="314.4" width="274.2" height="273.8"/></clipPath>
<line x1="407.30" y1="578.20" x2="661.10" y2="324.70" stroke="#a6a6a6" stroke-width="1.5"/>
<g clip-path="url(#cmd)">
<circle cx="535.30" cy="456.27" r="2.30" fill="none" stroke="#FF9900" stroke-width="1.7"/>
<circle cx="539.19" cy="455.51" r="2.30" fill="none" stroke="#8B1010" stroke-width="1.7"/>
<circle cx="542.49" cy="453.82" r="2.30" fill="none" stroke="#FF0000" stroke-width="1.7"/>
<path d="M544.84 442.72L550.64 448.52M544.84 448.52L550.64 442.72" stroke="#FF9900" stroke-width="1.7" fill="none"/>
<circle cx="550.44" cy="447.31" r="2.30" fill="none" stroke="#000000" stroke-width="1.7"/>
<path d="M548.81 443.82L554.61 449.62M548.81 449.62L554.61 443.82" stroke="#000000" stroke-width="1.7" fill="none"/>
<path d="M556.11 439.86L559.76 443.51L556.11 447.16L552.46 443.51Z" stroke="#000000" stroke-width="1.7" fill="none" stroke-linejoin="miter"/>
<path d="M555.41 443.31L561.21 449.11M555.41 449.11L561.21 443.31" stroke="#00FFFF" stroke-width="1.7" fill="none"/>
<circle cx="557.97" cy="446.72" r="2.30" fill="none" stroke="#00FFFF" stroke-width="1.7"/>
<path d="M561.86 441.04L565.51 444.69L561.86 448.34L558.21 444.69Z" stroke="#00FFFF" stroke-width="1.7" fill="none" stroke-linejoin="miter"/>
<path d="M552.11 431.93H560.11M556.11 427.93V435.93" stroke="#FF9900" stroke-width="1.7" fill="none"/>
<path d="M555.33 433.20H563.33M559.33 429.20V437.20" stroke="#000000" stroke-width="1.7" fill="none"/>
<path d="M557.27 432.86H565.27M561.27 428.86V436.86" stroke="#00FFFF" stroke-width="1.7" fill="none"/>
<circle cx="562.63" cy="434.21" r="2.30" fill="none" stroke="#0000FF" stroke-width="1.7"/>
<path d="M561.16 431.06L566.96 436.86M561.16 436.86L566.96 431.06" stroke="#0000FF" stroke-width="1.7" fill="none"/>
<path d="M559.41 435.97L563.06 439.62L559.41 443.27L555.76 439.62Z" stroke="#FF9900" stroke-width="1.7" fill="none" stroke-linejoin="miter"/>
<path d="M556.76 435.62L562.56 441.42M556.76 441.42L562.56 435.62" stroke="#8B1010" stroke-width="1.7" fill="none"/>
<path d="M559.22 434.19L565.02 439.99M559.22 439.99L565.02 434.19" stroke="#FF0000" stroke-width="1.7" fill="none"/>
<path d="M563.36 421.54H571.36M567.36 417.54V425.54" stroke="#8B1010" stroke-width="1.7" fill="none"/>
<path d="M566.07 419.93H574.07M570.07 415.93V423.93" stroke="#FF0000" stroke-width="1.7" fill="none"/>
<path d="M562.94 423.82H570.94M566.94 419.82V427.82" stroke="#0000FF" stroke-width="1.7" fill="none"/>
<path d="M573.96 424.73L577.61 428.38L573.96 432.03L570.31 428.38Z" stroke="#0000FF" stroke-width="1.7" fill="none" stroke-linejoin="miter"/>
<path d="M573.96 427.52L577.61 431.17L573.96 434.82L570.31 431.17Z" stroke="#8B1010" stroke-width="1.7" fill="none" stroke-linejoin="miter"/>
<path d="M578.45 424.73L582.10 428.38L578.45 432.03L574.80 428.38Z" stroke="#FF0000" stroke-width="1.7" fill="none" stroke-linejoin="miter"/>
<polygon points="654.33,375.33 651.13,380.88 657.54,380.88" fill="none" stroke="#FF0000" stroke-width="1.7" stroke-linejoin="miter"/>
<polygon points="650.19,376.09 646.98,381.64 653.39,381.64" fill="none" stroke="#0000FF" stroke-width="1.7" stroke-linejoin="miter"/>
<polygon points="643.33,381.92 640.13,387.47 646.54,387.47" fill="none" stroke="#8B1010" stroke-width="1.7" stroke-linejoin="miter"/>
<polygon points="625.14,396.03 621.94,401.58 628.35,401.58" fill="none" stroke="#FF9900" stroke-width="1.7" stroke-linejoin="miter"/>
<polygon points="625.40,405.83 622.19,411.38 628.60,411.38" fill="none" stroke="#00FFFF" stroke-width="1.7" stroke-linejoin="miter"/>
<polygon points="606.11,420.28 602.91,425.83 609.31,425.83" fill="none" stroke="#000000" stroke-width="1.7" stroke-linejoin="miter"/>
</g>
<line x1="407.30" y1="588.20" x2="407.30" y2="594.40" stroke="#000" stroke-width="1.35"/>
<text x="407.30" y="604.30" font-size="8.6" text-anchor="middle" font-weight="normal" fill="#2a2a2a"  textLength="4.45" lengthAdjust="spacingAndGlyphs">0</text>
<line x1="391.00" y1="578.20" x2="397.40" y2="578.20" stroke="#000" stroke-width="1.35"/>
<text x="390.80" y="581.20" font-size="8.6" text-anchor="end" font-weight="normal" fill="#2a2a2a"  textLength="4.45" lengthAdjust="spacingAndGlyphs">0</text>
<line x1="449.60" y1="588.20" x2="449.60" y2="594.40" stroke="#000" stroke-width="1.35"/>
<text x="449.60" y="604.30" font-size="8.6" text-anchor="middle" font-weight="normal" fill="#2a2a2a"  textLength="4.45" lengthAdjust="spacingAndGlyphs">5</text>
<line x1="391.00" y1="535.95" x2="397.40" y2="535.95" stroke="#000" stroke-width="1.35"/>
<text x="390.80" y="538.95" font-size="8.6" text-anchor="end" font-weight="normal" fill="#2a2a2a"  textLength="4.45" lengthAdjust="spacingAndGlyphs">5</text>
<line x1="491.90" y1="588.20" x2="491.90" y2="594.40" stroke="#000" stroke-width="1.35"/>
<text x="491.90" y="604.30" font-size="8.6" text-anchor="middle" font-weight="normal" fill="#2a2a2a"  textLength="8.90" lengthAdjust="spacingAndGlyphs">10</text>
<line x1="391.00" y1="493.70" x2="397.40" y2="493.70" stroke="#000" stroke-width="1.35"/>
<text x="390.80" y="496.70" font-size="8.6" text-anchor="end" font-weight="normal" fill="#2a2a2a"  textLength="8.90" lengthAdjust="spacingAndGlyphs">10</text>
<line x1="534.20" y1="588.20" x2="534.20" y2="594.40" stroke="#000" stroke-width="1.35"/>
<text x="534.20" y="604.30" font-size="8.6" text-anchor="middle" font-weight="normal" fill="#2a2a2a"  textLength="8.90" lengthAdjust="spacingAndGlyphs">15</text>
<line x1="391.00" y1="451.45" x2="397.40" y2="451.45" stroke="#000" stroke-width="1.35"/>
<text x="390.80" y="454.45" font-size="8.6" text-anchor="end" font-weight="normal" fill="#2a2a2a"  textLength="8.90" lengthAdjust="spacingAndGlyphs">15</text>
<line x1="576.50" y1="588.20" x2="576.50" y2="594.40" stroke="#000" stroke-width="1.35"/>
<text x="576.50" y="604.30" font-size="8.6" text-anchor="middle" font-weight="normal" fill="#2a2a2a"  textLength="8.90" lengthAdjust="spacingAndGlyphs">20</text>
<line x1="391.00" y1="409.20" x2="397.40" y2="409.20" stroke="#000" stroke-width="1.35"/>
<text x="390.80" y="412.20" font-size="8.6" text-anchor="end" font-weight="normal" fill="#2a2a2a"  textLength="8.90" lengthAdjust="spacingAndGlyphs">20</text>
<line x1="618.80" y1="588.20" x2="618.80" y2="594.40" stroke="#000" stroke-width="1.35"/>
<text x="618.80" y="604.30" font-size="8.6" text-anchor="middle" font-weight="normal" fill="#2a2a2a"  textLength="8.90" lengthAdjust="spacingAndGlyphs">25</text>
<line x1="391.00" y1="366.95" x2="397.40" y2="366.95" stroke="#000" stroke-width="1.35"/>
<text x="390.80" y="369.95" font-size="8.6" text-anchor="end" font-weight="normal" fill="#2a2a2a"  textLength="8.90" lengthAdjust="spacingAndGlyphs">25</text>
<line x1="661.10" y1="588.20" x2="661.10" y2="594.40" stroke="#000" stroke-width="1.35"/>
<text x="661.10" y="604.30" font-size="8.6" text-anchor="middle" font-weight="normal" fill="#2a2a2a"  textLength="8.90" lengthAdjust="spacingAndGlyphs">30</text>
<line x1="391.00" y1="324.70" x2="397.40" y2="324.70" stroke="#000" stroke-width="1.35"/>
<text x="390.80" y="327.70" font-size="8.6" text-anchor="end" font-weight="normal" fill="#2a2a2a"  textLength="8.90" lengthAdjust="spacingAndGlyphs">30</text>
<rect x="418.75" y="314.40" width="127.30" height="124.60" fill="#fff"/>
<clipPath id="cid"><rect x="418.75" y="314.40" width="127.30" height="124.60"/></clipPath>
<line x1="423.46" y1="434.39" x2="541.34" y2="319.01" stroke="#a6a6a6" stroke-width="1.5"/>
<g clip-path="url(#cid)">
<circle cx="443.96" cy="426.75" r="2.30" fill="none" stroke="#FF9900" stroke-width="1.7"/>
<circle cx="452.30" cy="425.16" r="2.30" fill="none" stroke="#8B1010" stroke-width="1.7"/>
<circle cx="459.37" cy="421.61" r="2.30" fill="none" stroke="#FF0000" stroke-width="1.7"/>
<path d="M467.71 401.49L473.51 407.29M467.71 407.29L473.51 401.49" stroke="#FF9900" stroke-width="1.7" fill="none"/>
<circle cx="476.42" cy="407.94" r="2.30" fill="none" stroke="#000000" stroke-width="1.7"/>
<path d="M476.24 403.80L482.04 409.60M476.24 409.60L482.04 403.80" stroke="#000000" stroke-width="1.7" fill="none"/>
<path d="M488.57 396.30L492.22 399.95L488.57 403.60L484.92 399.95Z" stroke="#000000" stroke-width="1.7" fill="none" stroke-linejoin="miter"/>
<path d="M490.38 402.73L496.18 408.53M490.38 408.53L496.18 402.73" stroke="#00FFFF" stroke-width="1.7" fill="none"/>
<circle cx="492.55" cy="406.70" r="2.30" fill="none" stroke="#00FFFF" stroke-width="1.7"/>
<path d="M500.90 398.79L504.55 402.44L500.90 406.09L497.25 402.44Z" stroke="#00FFFF" stroke-width="1.7" fill="none" stroke-linejoin="miter"/>
<path d="M484.57 375.64H492.57M488.57 371.64V379.64" stroke="#FF9900" stroke-width="1.7" fill="none"/>
<path d="M491.46 378.30H499.46M495.46 374.30V382.30" stroke="#000000" stroke-width="1.7" fill="none"/>
<path d="M495.63 377.59H503.63M499.63 373.59V381.59" stroke="#00FFFF" stroke-width="1.7" fill="none"/>
<circle cx="502.53" cy="380.43" r="2.30" fill="none" stroke="#0000FF" stroke-width="1.7"/>
<path d="M502.71 376.99L508.51 382.79M502.71 382.79L508.51 376.99" stroke="#0000FF" stroke-width="1.7" fill="none"/>
<path d="M495.64 388.14L499.29 391.79L495.64 395.44L491.99 391.79Z" stroke="#FF9900" stroke-width="1.7" fill="none" stroke-linejoin="miter"/>
<path d="M493.28 386.58L499.08 392.38M493.28 392.38L499.08 386.58" stroke="#8B1010" stroke-width="1.7" fill="none"/>
<path d="M498.54 383.56L504.34 389.36M498.54 389.36L504.34 383.56" stroke="#FF0000" stroke-width="1.7" fill="none"/>
<path d="M508.68 353.80H516.68M512.68 349.80V357.80" stroke="#8B1010" stroke-width="1.7" fill="none"/>
<path d="M514.49 350.43H522.49M518.49 346.43V354.43" stroke="#FF0000" stroke-width="1.7" fill="none"/>
<path d="M507.78 358.60H515.78M511.78 354.60V362.60" stroke="#0000FF" stroke-width="1.7" fill="none"/>
<path d="M526.83 364.53L530.48 368.18L526.83 371.83L523.18 368.18Z" stroke="#0000FF" stroke-width="1.7" fill="none" stroke-linejoin="miter"/>
<path d="M526.83 370.39L530.48 374.04L526.83 377.69L523.18 374.04Z" stroke="#8B1010" stroke-width="1.7" fill="none" stroke-linejoin="miter"/>
<path d="M536.44 364.53L540.09 368.18L536.44 371.83L532.79 368.18Z" stroke="#FF0000" stroke-width="1.7" fill="none" stroke-linejoin="miter"/>
</g>
<line x1="423.46" y1="439.00" x2="423.46" y2="445.20" stroke="#000" stroke-width="1.35"/>
<text x="423.46" y="455.10" font-size="8.6" text-anchor="middle" font-weight="normal" fill="#2a2a2a"  textLength="8.90" lengthAdjust="spacingAndGlyphs">14</text>
<line x1="412.55" y1="434.39" x2="418.75" y2="434.39" stroke="#000" stroke-width="1.35"/>
<text x="412.45" y="437.39" font-size="8.6" text-anchor="end" font-weight="normal" fill="#2a2a2a"  textLength="8.90" lengthAdjust="spacingAndGlyphs">14</text>
<line x1="441.60" y1="439.00" x2="441.60" y2="445.20" stroke="#000" stroke-width="1.35"/>
<text x="441.60" y="455.10" font-size="8.6" text-anchor="middle" font-weight="normal" fill="#2a2a2a"  textLength="8.90" lengthAdjust="spacingAndGlyphs">15</text>
<line x1="412.55" y1="416.64" x2="418.75" y2="416.64" stroke="#000" stroke-width="1.35"/>
<text x="412.45" y="419.64" font-size="8.6" text-anchor="end" font-weight="normal" fill="#2a2a2a"  textLength="8.90" lengthAdjust="spacingAndGlyphs">15</text>
<line x1="459.73" y1="439.00" x2="459.73" y2="445.20" stroke="#000" stroke-width="1.35"/>
<text x="459.73" y="455.10" font-size="8.6" text-anchor="middle" font-weight="normal" fill="#2a2a2a"  textLength="8.90" lengthAdjust="spacingAndGlyphs">16</text>
<line x1="412.55" y1="398.89" x2="418.75" y2="398.89" stroke="#000" stroke-width="1.35"/>
<text x="412.45" y="401.89" font-size="8.6" text-anchor="end" font-weight="normal" fill="#2a2a2a"  textLength="8.90" lengthAdjust="spacingAndGlyphs">16</text>
<line x1="477.87" y1="439.00" x2="477.87" y2="445.20" stroke="#000" stroke-width="1.35"/>
<text x="477.87" y="455.10" font-size="8.6" text-anchor="middle" font-weight="normal" fill="#2a2a2a"  textLength="8.90" lengthAdjust="spacingAndGlyphs">17</text>
<line x1="412.55" y1="381.14" x2="418.75" y2="381.14" stroke="#000" stroke-width="1.35"/>
<text x="412.45" y="384.14" font-size="8.6" text-anchor="end" font-weight="normal" fill="#2a2a2a"  textLength="8.90" lengthAdjust="spacingAndGlyphs">17</text>
<line x1="496.00" y1="439.00" x2="496.00" y2="445.20" stroke="#000" stroke-width="1.35"/>
<text x="496.00" y="455.10" font-size="8.6" text-anchor="middle" font-weight="normal" fill="#2a2a2a"  textLength="8.90" lengthAdjust="spacingAndGlyphs">18</text>
<line x1="412.55" y1="363.39" x2="418.75" y2="363.39" stroke="#000" stroke-width="1.35"/>
<text x="412.45" y="366.39" font-size="8.6" text-anchor="end" font-weight="normal" fill="#2a2a2a"  textLength="8.90" lengthAdjust="spacingAndGlyphs">18</text>
<line x1="514.13" y1="439.00" x2="514.13" y2="445.20" stroke="#000" stroke-width="1.35"/>
<text x="514.13" y="455.10" font-size="8.6" text-anchor="middle" font-weight="normal" fill="#2a2a2a"  textLength="8.90" lengthAdjust="spacingAndGlyphs">19</text>
<line x1="412.55" y1="345.64" x2="418.75" y2="345.64" stroke="#000" stroke-width="1.35"/>
<text x="412.45" y="348.64" font-size="8.6" text-anchor="end" font-weight="normal" fill="#2a2a2a"  textLength="8.90" lengthAdjust="spacingAndGlyphs">19</text>
<line x1="532.27" y1="439.00" x2="532.27" y2="445.20" stroke="#000" stroke-width="1.35"/>
<text x="532.27" y="455.10" font-size="8.6" text-anchor="middle" font-weight="normal" fill="#2a2a2a"  textLength="8.90" lengthAdjust="spacingAndGlyphs">20</text>
<line x1="412.55" y1="327.89" x2="418.75" y2="327.89" stroke="#000" stroke-width="1.35"/>
<text x="412.45" y="330.89" font-size="8.6" text-anchor="end" font-weight="normal" fill="#2a2a2a"  textLength="8.90" lengthAdjust="spacingAndGlyphs">20</text>
<rect x="418.75" y="314.40" width="127.30" height="124.60" fill="none" stroke="#161616" stroke-width="1.5"/>
<rect x="397.40" y="314.40" width="274.20" height="273.80" fill="none" stroke="#161616" stroke-width="1.5"/>
<rect x="551.60" y="493.80" width="56.50" height="85.10" fill="#fff" stroke="#161616" stroke-width="1.5"/>
<text x="569.80" y="509.60" font-size="10" text-anchor="start" font-weight="normal" fill="#0000FF" >simRes</text>
<text x="569.80" y="521.80" font-size="10" text-anchor="start" font-weight="normal" fill="#FF0000" >simLin</text>
<text x="569.80" y="534.00" font-size="10" text-anchor="start" font-weight="normal" fill="#8B1010" >simRel</text>
<text x="569.80" y="546.20" font-size="10" text-anchor="start" font-weight="normal" fill="#FF9900" >simIC</text>
<text x="569.80" y="558.40" font-size="10" text-anchor="start" font-weight="normal" fill="#00FFFF" >simJC</text>
<text x="569.80" y="570.60" font-size="10" text-anchor="start" font-weight="normal" fill="#000000" >simGIC</text>
<rect x="610.90" y="493.80" width="54.10" height="72.60" fill="#fff" stroke="#161616" stroke-width="1.5"/>
<circle cx="619.90" cy="506.00" r="2.53" fill="none" stroke="#000" stroke-width="1.35"/>
<text x="629.10" y="509.70" font-size="10" text-anchor="start" font-weight="normal" fill="#111" >fsMax</text>
<polygon points="619.90,515.51 616.86,520.79 622.94,520.79" fill="none" stroke="#000" stroke-width="1.35" stroke-linejoin="miter"/>
<text x="629.10" y="521.80" font-size="10" text-anchor="start" font-weight="normal" fill="#111" >fsAvg</text>
<path d="M616.10 530.30H623.70M619.90 526.50V534.10" stroke="#000" stroke-width="1.35" fill="none"/>
<text x="629.10" y="533.90" font-size="10" text-anchor="start" font-weight="normal" fill="#111" >fsBMM</text>
<path d="M617.14 539.70L622.65 545.21M617.14 545.21L622.65 539.70" stroke="#000" stroke-width="1.35" fill="none"/>
<text x="629.10" y="546.00" font-size="10" text-anchor="start" font-weight="normal" fill="#111" >fsBMA</text>
<path d="M619.90 551.13L623.37 554.60L619.90 558.07L616.43 554.60Z" stroke="#000" stroke-width="1.35" fill="none" stroke-linejoin="miter"/>
<text x="629.10" y="558.10" font-size="10" text-anchor="start" font-weight="normal" fill="#111" >fsABM</text>
<clipPath id="cme"><rect x="38.6" y="609.3" width="274.2" height="273.8"/></clipPath>
<line x1="48.50" y1="873.10" x2="302.30" y2="619.60" stroke="#a6a6a6" stroke-width="1.5"/>
<g clip-path="url(#cme)">
<circle cx="148.07" cy="779.64" r="2.30" fill="none" stroke="#000000" stroke-width="1.7"/>
<path d="M145.17 776.74L150.97 782.54M145.17 782.54L150.97 776.74" stroke="#000000" stroke-width="1.7" fill="none"/>
<path d="M152.22 773.96L155.87 777.61L152.22 781.26L148.57 777.61Z" stroke="#000000" stroke-width="1.7" fill="none" stroke-linejoin="miter"/>
<circle cx="150.19" cy="775.76" r="2.30" fill="none" stroke="#FF0000" stroke-width="1.7"/>
<circle cx="153.40" cy="775.33" r="2.30" fill="none" stroke="#00FFFF" stroke-width="1.7"/>
<circle cx="155.01" cy="775.33" r="2.30" fill="none" stroke="#8B1010" stroke-width="1.7"/>
<path d="M150.25 771.45H158.25M154.25 767.45V775.45" stroke="#000000" stroke-width="1.7" fill="none"/>
<path d="M158.46 766.01L164.26 771.81M158.46 771.81L164.26 766.01" stroke="#FF9900" stroke-width="1.7" fill="none"/>
<circle cx="163.13" cy="772.97" r="2.30" fill="none" stroke="#FF9900" stroke-width="1.7"/>
<path d="M158.63 773.45L164.43 779.25M158.63 779.25L164.43 773.45" stroke="#00FFFF" stroke-width="1.7" fill="none"/>
<path d="M165.33 772.95L168.98 776.60L165.33 780.25L161.68 776.60Z" stroke="#00FFFF" stroke-width="1.7" fill="none" stroke-linejoin="miter"/>
<path d="M162.09 768.07H170.09M166.09 764.07V772.07" stroke="#00FFFF" stroke-width="1.7" fill="none"/>
<path d="M160.57 765.17L166.37 770.97M160.57 770.97L166.37 765.17" stroke="#FF0000" stroke-width="1.7" fill="none"/>
<path d="M162.18 765.17L167.98 770.97M162.18 770.97L167.98 765.17" stroke="#8B1010" stroke-width="1.7" fill="none"/>
<path d="M163.87 761.56H171.87M167.87 757.56V765.56" stroke="#FF9900" stroke-width="1.7" fill="none"/>
<path d="M169.03 757.67H177.03M173.03 753.67V761.67" stroke="#FF0000" stroke-width="1.7" fill="none"/>
<path d="M171.15 757.67H179.15M175.15 753.67V761.67" stroke="#8B1010" stroke-width="1.7" fill="none"/>
<path d="M177.18 757.32L180.83 760.97L177.18 764.62L173.53 760.97Z" stroke="#FF9900" stroke-width="1.7" fill="none" stroke-linejoin="miter"/>
<path d="M183.44 751.57L187.09 755.22L183.44 758.87L179.79 755.22Z" stroke="#FF0000" stroke-width="1.7" fill="none" stroke-linejoin="miter"/>
<path d="M184.28 752.42L187.93 756.07L184.28 759.72L180.63 756.07Z" stroke="#8B1010" stroke-width="1.7" fill="none" stroke-linejoin="miter"/>
<polygon points="194.35,756.67 191.15,762.22 197.55,762.22" fill="none" stroke="#000000" stroke-width="1.7" stroke-linejoin="miter"/>
<polygon points="228.70,706.23 225.49,711.78 231.90,711.78" fill="none" stroke="#0000FF" stroke-width="1.7" stroke-linejoin="miter"/>
<polygon points="225.65,715.10 222.45,720.65 228.86,720.65" fill="none" stroke="#FF0000" stroke-width="1.7" stroke-linejoin="miter"/>
<polygon points="216.68,722.03 213.48,727.58 219.89,727.58" fill="none" stroke="#8B1010" stroke-width="1.7" stroke-linejoin="miter"/>
<path d="M210.51 727.74L214.16 731.39L210.51 735.04L206.86 731.39Z" stroke="#0000FF" stroke-width="1.7" fill="none" stroke-linejoin="miter"/>
<polygon points="204.76,730.73 201.55,736.28 207.96,736.28" fill="none" stroke="#FF9900" stroke-width="1.7" stroke-linejoin="miter"/>
<circle cx="231.83" cy="732.83" r="2.30" fill="none" stroke="#0000FF" stroke-width="1.7"/>
<polygon points="242.66,735.97 239.45,741.52 245.86,741.52" fill="none" stroke="#00FFFF" stroke-width="1.7" stroke-linejoin="miter"/>
<path d="M212.68 737.98H220.68M216.68 733.98V741.98" stroke="#0000FF" stroke-width="1.7" fill="none"/>
<path d="M202.45 739.31L208.25 745.11M202.45 745.11L208.25 739.31" stroke="#0000FF" stroke-width="1.7" fill="none"/>
</g>
<line x1="48.50" y1="883.10" x2="48.50" y2="889.30" stroke="#000" stroke-width="1.35"/>
<text x="48.50" y="899.20" font-size="8.6" text-anchor="middle" font-weight="normal" fill="#2a2a2a"  textLength="4.45" lengthAdjust="spacingAndGlyphs">0</text>
<line x1="32.20" y1="873.10" x2="38.60" y2="873.10" stroke="#000" stroke-width="1.35"/>
<text x="32.00" y="876.10" font-size="8.6" text-anchor="end" font-weight="normal" fill="#2a2a2a"  textLength="4.45" lengthAdjust="spacingAndGlyphs">0</text>
<line x1="90.80" y1="883.10" x2="90.80" y2="889.30" stroke="#000" stroke-width="1.35"/>
<text x="90.80" y="899.20" font-size="8.6" text-anchor="middle" font-weight="normal" fill="#2a2a2a"  textLength="4.45" lengthAdjust="spacingAndGlyphs">5</text>
<line x1="32.20" y1="830.85" x2="38.60" y2="830.85" stroke="#000" stroke-width="1.35"/>
<text x="32.00" y="833.85" font-size="8.6" text-anchor="end" font-weight="normal" fill="#2a2a2a"  textLength="4.45" lengthAdjust="spacingAndGlyphs">5</text>
<line x1="133.10" y1="883.10" x2="133.10" y2="889.30" stroke="#000" stroke-width="1.35"/>
<text x="133.10" y="899.20" font-size="8.6" text-anchor="middle" font-weight="normal" fill="#2a2a2a"  textLength="8.90" lengthAdjust="spacingAndGlyphs">10</text>
<line x1="32.20" y1="788.60" x2="38.60" y2="788.60" stroke="#000" stroke-width="1.35"/>
<text x="32.00" y="791.60" font-size="8.6" text-anchor="end" font-weight="normal" fill="#2a2a2a"  textLength="8.90" lengthAdjust="spacingAndGlyphs">10</text>
<line x1="175.40" y1="883.10" x2="175.40" y2="889.30" stroke="#000" stroke-width="1.35"/>
<text x="175.40" y="899.20" font-size="8.6" text-anchor="middle" font-weight="normal" fill="#2a2a2a"  textLength="8.90" lengthAdjust="spacingAndGlyphs">15</text>
<line x1="32.20" y1="746.35" x2="38.60" y2="746.35" stroke="#000" stroke-width="1.35"/>
<text x="32.00" y="749.35" font-size="8.6" text-anchor="end" font-weight="normal" fill="#2a2a2a"  textLength="8.90" lengthAdjust="spacingAndGlyphs">15</text>
<line x1="217.70" y1="883.10" x2="217.70" y2="889.30" stroke="#000" stroke-width="1.35"/>
<text x="217.70" y="899.20" font-size="8.6" text-anchor="middle" font-weight="normal" fill="#2a2a2a"  textLength="8.90" lengthAdjust="spacingAndGlyphs">20</text>
<line x1="32.20" y1="704.10" x2="38.60" y2="704.10" stroke="#000" stroke-width="1.35"/>
<text x="32.00" y="707.10" font-size="8.6" text-anchor="end" font-weight="normal" fill="#2a2a2a"  textLength="8.90" lengthAdjust="spacingAndGlyphs">20</text>
<line x1="260.00" y1="883.10" x2="260.00" y2="889.30" stroke="#000" stroke-width="1.35"/>
<text x="260.00" y="899.20" font-size="8.6" text-anchor="middle" font-weight="normal" fill="#2a2a2a"  textLength="8.90" lengthAdjust="spacingAndGlyphs">25</text>
<line x1="32.20" y1="661.85" x2="38.60" y2="661.85" stroke="#000" stroke-width="1.35"/>
<text x="32.00" y="664.85" font-size="8.6" text-anchor="end" font-weight="normal" fill="#2a2a2a"  textLength="8.90" lengthAdjust="spacingAndGlyphs">25</text>
<line x1="302.30" y1="883.10" x2="302.30" y2="889.30" stroke="#000" stroke-width="1.35"/>
<text x="302.30" y="899.20" font-size="8.6" text-anchor="middle" font-weight="normal" fill="#2a2a2a"  textLength="8.90" lengthAdjust="spacingAndGlyphs">30</text>
<line x1="32.20" y1="619.60" x2="38.60" y2="619.60" stroke="#000" stroke-width="1.35"/>
<text x="32.00" y="622.60" font-size="8.6" text-anchor="end" font-weight="normal" fill="#2a2a2a"  textLength="8.90" lengthAdjust="spacingAndGlyphs">30</text>
<rect x="60.45" y="609.30" width="127.30" height="124.60" fill="#fff"/>
<clipPath id="cie"><rect x="60.45" y="609.30" width="127.30" height="124.60"/></clipPath>
<line x1="65.16" y1="729.29" x2="183.04" y2="613.91" stroke="#a6a6a6" stroke-width="1.5"/>
<g clip-path="url(#cie)">
<circle cx="78.13" cy="728.30" r="2.30" fill="none" stroke="#000000" stroke-width="1.7"/>
<path d="M75.23 725.40L81.03 731.20M75.23 731.20L81.03 725.40" stroke="#000000" stroke-width="1.7" fill="none"/>
<path d="M86.38 720.69L90.03 724.34L86.38 727.99L82.73 724.34Z" stroke="#000000" stroke-width="1.7" fill="none" stroke-linejoin="miter"/>
<circle cx="82.34" cy="720.71" r="2.30" fill="none" stroke="#FF0000" stroke-width="1.7"/>
<circle cx="88.74" cy="719.89" r="2.30" fill="none" stroke="#00FFFF" stroke-width="1.7"/>
<circle cx="91.94" cy="719.89" r="2.30" fill="none" stroke="#8B1010" stroke-width="1.7"/>
<path d="M86.42 712.31H94.42M90.42 708.31V716.31" stroke="#000000" stroke-width="1.7" fill="none"/>
<path d="M101.67 704.46L107.47 710.26M101.67 710.26L107.47 704.46" stroke="#FF9900" stroke-width="1.7" fill="none"/>
<circle cx="108.10" cy="715.28" r="2.30" fill="none" stroke="#FF9900" stroke-width="1.7"/>
<path d="M102.00 718.97L107.80 724.77M102.00 724.77L107.80 718.97" stroke="#00FFFF" stroke-width="1.7" fill="none"/>
<path d="M112.48 718.71L116.13 722.36L112.48 726.01L108.83 722.36Z" stroke="#00FFFF" stroke-width="1.7" fill="none" stroke-linejoin="miter"/>
<path d="M110.00 705.72H118.00M114.00 701.72V709.72" stroke="#00FFFF" stroke-width="1.7" fill="none"/>
<path d="M105.88 702.82L111.68 708.62M105.88 708.62L111.68 702.82" stroke="#FF0000" stroke-width="1.7" fill="none"/>
<path d="M109.08 702.82L114.88 708.62M109.08 708.62L114.88 702.82" stroke="#8B1010" stroke-width="1.7" fill="none"/>
<path d="M113.53 693.03H121.53M117.53 689.03V697.03" stroke="#FF9900" stroke-width="1.7" fill="none"/>
<path d="M123.80 685.44H131.80M127.80 681.44V689.44" stroke="#FF0000" stroke-width="1.7" fill="none"/>
<path d="M128.01 685.44H136.01M132.01 681.44V689.44" stroke="#8B1010" stroke-width="1.7" fill="none"/>
<path d="M136.06 688.22L139.71 691.87L136.06 695.52L132.41 691.87Z" stroke="#FF9900" stroke-width="1.7" fill="none" stroke-linejoin="miter"/>
<path d="M148.52 677.01L152.17 680.66L148.52 684.31L144.87 680.66Z" stroke="#FF0000" stroke-width="1.7" fill="none" stroke-linejoin="miter"/>
<path d="M150.20 678.66L153.85 682.31L150.20 685.96L146.55 682.31Z" stroke="#8B1010" stroke-width="1.7" fill="none" stroke-linejoin="miter"/>
<polygon points="170.24,686.13 167.03,691.68 173.44,691.68" fill="none" stroke="#000000" stroke-width="1.7" stroke-linejoin="miter"/>
</g>
<line x1="65.16" y1="733.90" x2="65.16" y2="740.10" stroke="#000" stroke-width="1.35"/>
<text x="65.16" y="750.00" font-size="8.6" text-anchor="middle" font-weight="normal" fill="#2a2a2a"  textLength="8.90" lengthAdjust="spacingAndGlyphs">11</text>
<line x1="54.25" y1="729.29" x2="60.45" y2="729.29" stroke="#000" stroke-width="1.35"/>
<text x="54.15" y="732.29" font-size="8.6" text-anchor="end" font-weight="normal" fill="#2a2a2a"  textLength="8.90" lengthAdjust="spacingAndGlyphs">11</text>
<line x1="82.00" y1="733.90" x2="82.00" y2="740.10" stroke="#000" stroke-width="1.35"/>
<text x="82.00" y="750.00" font-size="8.6" text-anchor="middle" font-weight="normal" fill="#2a2a2a"  textLength="8.90" lengthAdjust="spacingAndGlyphs">12</text>
<line x1="54.25" y1="712.80" x2="60.45" y2="712.80" stroke="#000" stroke-width="1.35"/>
<text x="54.15" y="715.80" font-size="8.6" text-anchor="end" font-weight="normal" fill="#2a2a2a"  textLength="8.90" lengthAdjust="spacingAndGlyphs">12</text>
<line x1="98.84" y1="733.90" x2="98.84" y2="740.10" stroke="#000" stroke-width="1.35"/>
<text x="98.84" y="750.00" font-size="8.6" text-anchor="middle" font-weight="normal" fill="#2a2a2a"  textLength="8.90" lengthAdjust="spacingAndGlyphs">13</text>
<line x1="54.25" y1="696.32" x2="60.45" y2="696.32" stroke="#000" stroke-width="1.35"/>
<text x="54.15" y="699.32" font-size="8.6" text-anchor="end" font-weight="normal" fill="#2a2a2a"  textLength="8.90" lengthAdjust="spacingAndGlyphs">13</text>
<line x1="115.68" y1="733.90" x2="115.68" y2="740.10" stroke="#000" stroke-width="1.35"/>
<text x="115.68" y="750.00" font-size="8.6" text-anchor="middle" font-weight="normal" fill="#2a2a2a"  textLength="8.90" lengthAdjust="spacingAndGlyphs">14</text>
<line x1="54.25" y1="679.84" x2="60.45" y2="679.84" stroke="#000" stroke-width="1.35"/>
<text x="54.15" y="682.84" font-size="8.6" text-anchor="end" font-weight="normal" fill="#2a2a2a"  textLength="8.90" lengthAdjust="spacingAndGlyphs">14</text>
<line x1="132.52" y1="733.90" x2="132.52" y2="740.10" stroke="#000" stroke-width="1.35"/>
<text x="132.52" y="750.00" font-size="8.6" text-anchor="middle" font-weight="normal" fill="#2a2a2a"  textLength="8.90" lengthAdjust="spacingAndGlyphs">15</text>
<line x1="54.25" y1="663.36" x2="60.45" y2="663.36" stroke="#000" stroke-width="1.35"/>
<text x="54.15" y="666.36" font-size="8.6" text-anchor="end" font-weight="normal" fill="#2a2a2a"  textLength="8.90" lengthAdjust="spacingAndGlyphs">15</text>
<line x1="149.36" y1="733.90" x2="149.36" y2="740.10" stroke="#000" stroke-width="1.35"/>
<text x="149.36" y="750.00" font-size="8.6" text-anchor="middle" font-weight="normal" fill="#2a2a2a"  textLength="8.90" lengthAdjust="spacingAndGlyphs">16</text>
<line x1="54.25" y1="646.88" x2="60.45" y2="646.88" stroke="#000" stroke-width="1.35"/>
<text x="54.15" y="649.88" font-size="8.6" text-anchor="end" font-weight="normal" fill="#2a2a2a"  textLength="8.90" lengthAdjust="spacingAndGlyphs">16</text>
<line x1="166.20" y1="733.90" x2="166.20" y2="740.10" stroke="#000" stroke-width="1.35"/>
<text x="166.20" y="750.00" font-size="8.6" text-anchor="middle" font-weight="normal" fill="#2a2a2a"  textLength="8.90" lengthAdjust="spacingAndGlyphs">17</text>
<line x1="54.25" y1="630.40" x2="60.45" y2="630.40" stroke="#000" stroke-width="1.35"/>
<text x="54.15" y="633.40" font-size="8.6" text-anchor="end" font-weight="normal" fill="#2a2a2a"  textLength="8.90" lengthAdjust="spacingAndGlyphs">17</text>
<line x1="183.04" y1="733.90" x2="183.04" y2="740.10" stroke="#000" stroke-width="1.35"/>
<text x="183.04" y="750.00" font-size="8.6" text-anchor="middle" font-weight="normal" fill="#2a2a2a"  textLength="8.90" lengthAdjust="spacingAndGlyphs">18</text>
<line x1="54.25" y1="613.91" x2="60.45" y2="613.91" stroke="#000" stroke-width="1.35"/>
<text x="54.15" y="616.91" font-size="8.6" text-anchor="end" font-weight="normal" fill="#2a2a2a"  textLength="8.90" lengthAdjust="spacingAndGlyphs">18</text>
<rect x="60.45" y="609.30" width="127.30" height="124.60" fill="none" stroke="#161616" stroke-width="1.5"/>
<rect x="38.60" y="609.30" width="274.20" height="273.80" fill="none" stroke="#161616" stroke-width="1.5"/>
<rect x="192.80" y="788.70" width="56.50" height="85.10" fill="#fff" stroke="#161616" stroke-width="1.5"/>
<text x="211.00" y="804.50" font-size="10" text-anchor="start" font-weight="normal" fill="#0000FF" >simRes</text>
<text x="211.00" y="816.70" font-size="10" text-anchor="start" font-weight="normal" fill="#FF0000" >simLin</text>
<text x="211.00" y="828.90" font-size="10" text-anchor="start" font-weight="normal" fill="#8B1010" >simRel</text>
<text x="211.00" y="841.10" font-size="10" text-anchor="start" font-weight="normal" fill="#FF9900" >simIC</text>
<text x="211.00" y="853.30" font-size="10" text-anchor="start" font-weight="normal" fill="#00FFFF" >simJC</text>
<text x="211.00" y="865.50" font-size="10" text-anchor="start" font-weight="normal" fill="#000000" >simGIC</text>
<rect x="252.10" y="788.70" width="54.10" height="72.60" fill="#fff" stroke="#161616" stroke-width="1.5"/>
<circle cx="261.10" cy="800.90" r="2.53" fill="none" stroke="#000" stroke-width="1.35"/>
<text x="270.30" y="804.60" font-size="10" text-anchor="start" font-weight="normal" fill="#111" >fsMax</text>
<polygon points="261.10,810.41 258.06,815.69 264.14,815.69" fill="none" stroke="#000" stroke-width="1.35" stroke-linejoin="miter"/>
<text x="270.30" y="816.70" font-size="10" text-anchor="start" font-weight="normal" fill="#111" >fsAvg</text>
<path d="M257.30 825.20H264.90M261.10 821.40V829.00" stroke="#000" stroke-width="1.35" fill="none"/>
<text x="270.30" y="828.80" font-size="10" text-anchor="start" font-weight="normal" fill="#111" >fsBMM</text>
<path d="M258.35 834.60L263.86 840.11M258.35 840.11L263.86 834.60" stroke="#000" stroke-width="1.35" fill="none"/>
<text x="270.30" y="840.90" font-size="10" text-anchor="start" font-weight="normal" fill="#111" >fsBMA</text>
<path d="M261.10 846.03L264.57 849.50L261.10 852.97L257.63 849.50Z" stroke="#000" stroke-width="1.35" fill="none" stroke-linejoin="miter"/>
<text x="270.30" y="853.00" font-size="10" text-anchor="start" font-weight="normal" fill="#111" >fsABM</text>
<clipPath id="cmf"><rect x="397.4" y="609.3" width="274.2" height="273.8"/></clipPath>
<line x1="407.30" y1="873.10" x2="661.10" y2="619.60" stroke="#a6a6a6" stroke-width="1.5"/>
<g clip-path="url(#cmf)">
<circle cx="553.91" cy="734.77" r="2.30" fill="none" stroke="#FF9900" stroke-width="1.7"/>
<circle cx="556.70" cy="733.76" r="2.30" fill="none" stroke="#8B1010" stroke-width="1.7"/>
<circle cx="558.06" cy="733.51" r="2.30" fill="none" stroke="#FF0000" stroke-width="1.7"/>
<path d="M555.16 725.87L560.96 731.67M555.16 731.67L560.96 725.87" stroke="#FF9900" stroke-width="1.7" fill="none"/>
<path d="M560.06 725.87L565.86 731.67M560.06 731.67L565.86 725.87" stroke="#000000" stroke-width="1.7" fill="none"/>
<path d="M563.47 722.93L567.12 726.58L563.47 730.23L559.82 726.58Z" stroke="#000000" stroke-width="1.7" fill="none" stroke-linejoin="miter"/>
<circle cx="565.84" cy="727.59" r="2.30" fill="none" stroke="#000000" stroke-width="1.7"/>
<path d="M561.93 727.99L567.73 733.79M561.93 733.79L567.73 727.99" stroke="#00FFFF" stroke-width="1.7" fill="none"/>
<path d="M567.19 728.00L570.84 731.65L567.19 735.30L563.54 731.65Z" stroke="#00FFFF" stroke-width="1.7" fill="none" stroke-linejoin="miter"/>
<circle cx="568.29" cy="729.20" r="2.30" fill="none" stroke="#00FFFF" stroke-width="1.7"/>
<path d="M564.89 723.96H572.89M568.89 719.96V727.96" stroke="#00FFFF" stroke-width="1.7" fill="none"/>
<path d="M563.62 721.82L569.42 727.62M563.62 727.62L569.42 721.82" stroke="#8B1010" stroke-width="1.7" fill="none"/>
<path d="M565.39 720.80L571.19 726.60M565.39 726.60L571.19 720.80" stroke="#FF0000" stroke-width="1.7" fill="none"/>
<path d="M563.70 719.90H571.70M567.70 715.90V723.90" stroke="#000000" stroke-width="1.7" fill="none"/>
<path d="M570.15 716.42L573.80 720.07L570.15 723.72L566.50 720.07Z" stroke="#FF9900" stroke-width="1.7" fill="none" stroke-linejoin="miter"/>
<path d="M563.45 716.27H571.45M567.45 712.27V720.27" stroke="#FF9900" stroke-width="1.7" fill="none"/>
<path d="M570.64 712.69L576.44 718.49M570.64 718.49L576.44 712.69" stroke="#0000FF" stroke-width="1.7" fill="none"/>
<circle cx="579.38" cy="715.34" r="2.30" fill="none" stroke="#0000FF" stroke-width="1.7"/>
<path d="M572.08 710.35H580.08M576.08 706.35V714.35" stroke="#8B1010" stroke-width="1.7" fill="none"/>
<path d="M573.52 710.10H581.52M577.52 706.10V714.10" stroke="#FF0000" stroke-width="1.7" fill="none"/>
<path d="M582.17 708.56L585.82 712.21L582.17 715.86L578.52 712.21Z" stroke="#8B1010" stroke-width="1.7" fill="none" stroke-linejoin="miter"/>
<path d="M585.72 707.29L589.37 710.94L585.72 714.59L582.07 710.94Z" stroke="#FF0000" stroke-width="1.7" fill="none" stroke-linejoin="miter"/>
<path d="M577.66 706.80H585.66M581.66 702.80V710.80" stroke="#0000FF" stroke-width="1.7" fill="none"/>
<path d="M585.89 701.38L589.54 705.03L585.89 708.68L582.24 705.03Z" stroke="#0000FF" stroke-width="1.7" fill="none" stroke-linejoin="miter"/>
<polygon points="640.29,666.85 637.08,672.40 643.49,672.40" fill="none" stroke="#0000FF" stroke-width="1.7" stroke-linejoin="miter"/>
<polygon points="644.35,670.99 641.14,676.54 647.55,676.54" fill="none" stroke="#FF0000" stroke-width="1.7" stroke-linejoin="miter"/>
<polygon points="635.04,675.13 631.84,680.68 638.25,680.68" fill="none" stroke="#8B1010" stroke-width="1.7" stroke-linejoin="miter"/>
<polygon points="620.24,688.23 617.03,693.78 623.44,693.78" fill="none" stroke="#FF9900" stroke-width="1.7" stroke-linejoin="miter"/>
<polygon points="622.18,696.93 618.98,702.48 625.39,702.48" fill="none" stroke="#00FFFF" stroke-width="1.7" stroke-linejoin="miter"/>
<polygon points="607.13,704.79 603.92,710.34 610.33,710.34" fill="none" stroke="#000000" stroke-width="1.7" stroke-linejoin="miter"/>
</g>
<line x1="407.30" y1="883.10" x2="407.30" y2="889.30" stroke="#000" stroke-width="1.35"/>
<text x="407.30" y="899.20" font-size="8.6" text-anchor="middle" font-weight="normal" fill="#2a2a2a"  textLength="4.45" lengthAdjust="spacingAndGlyphs">0</text>
<line x1="391.00" y1="873.10" x2="397.40" y2="873.10" stroke="#000" stroke-width="1.35"/>
<text x="390.80" y="876.10" font-size="8.6" text-anchor="end" font-weight="normal" fill="#2a2a2a"  textLength="4.45" lengthAdjust="spacingAndGlyphs">0</text>
<line x1="449.60" y1="883.10" x2="449.60" y2="889.30" stroke="#000" stroke-width="1.35"/>
<text x="449.60" y="899.20" font-size="8.6" text-anchor="middle" font-weight="normal" fill="#2a2a2a"  textLength="4.45" lengthAdjust="spacingAndGlyphs">5</text>
<line x1="391.00" y1="830.85" x2="397.40" y2="830.85" stroke="#000" stroke-width="1.35"/>
<text x="390.80" y="833.85" font-size="8.6" text-anchor="end" font-weight="normal" fill="#2a2a2a"  textLength="4.45" lengthAdjust="spacingAndGlyphs">5</text>
<line x1="491.90" y1="883.10" x2="491.90" y2="889.30" stroke="#000" stroke-width="1.35"/>
<text x="491.90" y="899.20" font-size="8.6" text-anchor="middle" font-weight="normal" fill="#2a2a2a"  textLength="8.90" lengthAdjust="spacingAndGlyphs">10</text>
<line x1="391.00" y1="788.60" x2="397.40" y2="788.60" stroke="#000" stroke-width="1.35"/>
<text x="390.80" y="791.60" font-size="8.6" text-anchor="end" font-weight="normal" fill="#2a2a2a"  textLength="8.90" lengthAdjust="spacingAndGlyphs">10</text>
<line x1="534.20" y1="883.10" x2="534.20" y2="889.30" stroke="#000" stroke-width="1.35"/>
<text x="534.20" y="899.20" font-size="8.6" text-anchor="middle" font-weight="normal" fill="#2a2a2a"  textLength="8.90" lengthAdjust="spacingAndGlyphs">15</text>
<line x1="391.00" y1="746.35" x2="397.40" y2="746.35" stroke="#000" stroke-width="1.35"/>
<text x="390.80" y="749.35" font-size="8.6" text-anchor="end" font-weight="normal" fill="#2a2a2a"  textLength="8.90" lengthAdjust="spacingAndGlyphs">15</text>
<line x1="576.50" y1="883.10" x2="576.50" y2="889.30" stroke="#000" stroke-width="1.35"/>
<text x="576.50" y="899.20" font-size="8.6" text-anchor="middle" font-weight="normal" fill="#2a2a2a"  textLength="8.90" lengthAdjust="spacingAndGlyphs">20</text>
<line x1="391.00" y1="704.10" x2="397.40" y2="704.10" stroke="#000" stroke-width="1.35"/>
<text x="390.80" y="707.10" font-size="8.6" text-anchor="end" font-weight="normal" fill="#2a2a2a"  textLength="8.90" lengthAdjust="spacingAndGlyphs">20</text>
<line x1="618.80" y1="883.10" x2="618.80" y2="889.30" stroke="#000" stroke-width="1.35"/>
<text x="618.80" y="899.20" font-size="8.6" text-anchor="middle" font-weight="normal" fill="#2a2a2a"  textLength="8.90" lengthAdjust="spacingAndGlyphs">25</text>
<line x1="391.00" y1="661.85" x2="397.40" y2="661.85" stroke="#000" stroke-width="1.35"/>
<text x="390.80" y="664.85" font-size="8.6" text-anchor="end" font-weight="normal" fill="#2a2a2a"  textLength="8.90" lengthAdjust="spacingAndGlyphs">25</text>
<line x1="661.10" y1="883.10" x2="661.10" y2="889.30" stroke="#000" stroke-width="1.35"/>
<text x="661.10" y="899.20" font-size="8.6" text-anchor="middle" font-weight="normal" fill="#2a2a2a"  textLength="8.90" lengthAdjust="spacingAndGlyphs">30</text>
<line x1="391.00" y1="619.60" x2="397.40" y2="619.60" stroke="#000" stroke-width="1.35"/>
<text x="390.80" y="622.60" font-size="8.6" text-anchor="end" font-weight="normal" fill="#2a2a2a"  textLength="8.90" lengthAdjust="spacingAndGlyphs">30</text>
<rect x="418.75" y="609.30" width="127.30" height="124.60" fill="#fff"/>
<clipPath id="cif"><rect x="418.75" y="609.30" width="127.30" height="124.60"/></clipPath>
<line x1="423.46" y1="729.29" x2="541.34" y2="613.91" stroke="#a6a6a6" stroke-width="1.5"/>
<g clip-path="url(#cif)">
<circle cx="451.97" cy="721.52" r="2.30" fill="none" stroke="#FF9900" stroke-width="1.7"/>
<circle cx="459.04" cy="719.01" r="2.30" fill="none" stroke="#8B1010" stroke-width="1.7"/>
<circle cx="462.47" cy="718.38" r="2.30" fill="none" stroke="#FF0000" stroke-width="1.7"/>
<path d="M459.57 703.73L465.37 709.53M459.57 709.53L465.37 703.73" stroke="#FF9900" stroke-width="1.7" fill="none"/>
<path d="M472.00 703.73L477.80 709.53M472.00 709.53L477.80 703.73" stroke="#000000" stroke-width="1.7" fill="none"/>
<path d="M476.19 697.53L479.84 701.18L476.19 704.83L472.54 701.18Z" stroke="#000000" stroke-width="1.7" fill="none" stroke-linejoin="miter"/>
<circle cx="482.19" cy="703.69" r="2.30" fill="none" stroke="#000000" stroke-width="1.7"/>
<path d="M476.71 708.97L482.51 714.77M476.71 714.77L482.51 708.97" stroke="#00FFFF" stroke-width="1.7" fill="none"/>
<path d="M485.61 710.11L489.26 713.76L485.61 717.41L481.96 713.76Z" stroke="#00FFFF" stroke-width="1.7" fill="none" stroke-linejoin="miter"/>
<circle cx="488.40" cy="707.68" r="2.30" fill="none" stroke="#00FFFF" stroke-width="1.7"/>
<path d="M485.90 694.67H493.90M489.90 690.67V698.67" stroke="#00FFFF" stroke-width="1.7" fill="none"/>
<path d="M481.00 693.66L486.80 699.46M481.00 699.46L486.80 693.66" stroke="#8B1010" stroke-width="1.7" fill="none"/>
<path d="M485.50 691.14L491.30 696.94M485.50 696.94L491.30 691.14" stroke="#FF0000" stroke-width="1.7" fill="none"/>
<path d="M482.90 684.61H490.90M486.90 680.61V688.61" stroke="#000000" stroke-width="1.7" fill="none"/>
<path d="M493.12 681.37L496.77 685.02L493.12 688.67L489.47 685.02Z" stroke="#FF9900" stroke-width="1.7" fill="none" stroke-linejoin="miter"/>
<path d="M482.26 675.59H490.26M486.26 671.59V679.59" stroke="#FF9900" stroke-width="1.7" fill="none"/>
<path d="M498.79 671.01L504.59 676.81M498.79 676.81L504.59 671.01" stroke="#0000FF" stroke-width="1.7" fill="none"/>
<circle cx="516.48" cy="673.28" r="2.30" fill="none" stroke="#0000FF" stroke-width="1.7"/>
<path d="M504.12 660.90H512.12M508.12 656.90V664.90" stroke="#8B1010" stroke-width="1.7" fill="none"/>
<path d="M507.76 660.27H515.76M511.76 656.27V664.27" stroke="#FF0000" stroke-width="1.7" fill="none"/>
<path d="M523.55 661.87L527.20 665.52L523.55 669.17L519.90 665.52Z" stroke="#8B1010" stroke-width="1.7" fill="none" stroke-linejoin="miter"/>
<path d="M532.55 658.72L536.20 662.37L532.55 666.02L528.90 662.37Z" stroke="#FF0000" stroke-width="1.7" fill="none" stroke-linejoin="miter"/>
<path d="M518.26 652.09H526.26M522.26 648.09V656.09" stroke="#0000FF" stroke-width="1.7" fill="none"/>
<path d="M532.98 644.04L536.63 647.69L532.98 651.34L529.33 647.69Z" stroke="#0000FF" stroke-width="1.7" fill="none" stroke-linejoin="miter"/>
</g>
<line x1="423.46" y1="733.90" x2="423.46" y2="740.10" stroke="#000" stroke-width="1.35"/>
<text x="423.46" y="750.00" font-size="8.6" text-anchor="middle" font-weight="normal" fill="#2a2a2a"  textLength="8.90" lengthAdjust="spacingAndGlyphs">16</text>
<line x1="412.55" y1="729.29" x2="418.75" y2="729.29" stroke="#000" stroke-width="1.35"/>
<text x="412.45" y="732.29" font-size="8.6" text-anchor="end" font-weight="normal" fill="#2a2a2a"  textLength="8.90" lengthAdjust="spacingAndGlyphs">16</text>
<line x1="444.90" y1="733.90" x2="444.90" y2="740.10" stroke="#000" stroke-width="1.35"/>
<text x="444.90" y="750.00" font-size="8.6" text-anchor="middle" font-weight="normal" fill="#2a2a2a"  textLength="8.90" lengthAdjust="spacingAndGlyphs">17</text>
<line x1="412.55" y1="708.31" x2="418.75" y2="708.31" stroke="#000" stroke-width="1.35"/>
<text x="412.45" y="711.31" font-size="8.6" text-anchor="end" font-weight="normal" fill="#2a2a2a"  textLength="8.90" lengthAdjust="spacingAndGlyphs">17</text>
<line x1="466.33" y1="733.90" x2="466.33" y2="740.10" stroke="#000" stroke-width="1.35"/>
<text x="466.33" y="750.00" font-size="8.6" text-anchor="middle" font-weight="normal" fill="#2a2a2a"  textLength="8.90" lengthAdjust="spacingAndGlyphs">18</text>
<line x1="412.55" y1="687.33" x2="418.75" y2="687.33" stroke="#000" stroke-width="1.35"/>
<text x="412.45" y="690.33" font-size="8.6" text-anchor="end" font-weight="normal" fill="#2a2a2a"  textLength="8.90" lengthAdjust="spacingAndGlyphs">18</text>
<line x1="487.76" y1="733.90" x2="487.76" y2="740.10" stroke="#000" stroke-width="1.35"/>
<text x="487.76" y="750.00" font-size="8.6" text-anchor="middle" font-weight="normal" fill="#2a2a2a"  textLength="8.90" lengthAdjust="spacingAndGlyphs">19</text>
<line x1="412.55" y1="666.36" x2="418.75" y2="666.36" stroke="#000" stroke-width="1.35"/>
<text x="412.45" y="669.36" font-size="8.6" text-anchor="end" font-weight="normal" fill="#2a2a2a"  textLength="8.90" lengthAdjust="spacingAndGlyphs">19</text>
<line x1="509.19" y1="733.90" x2="509.19" y2="740.10" stroke="#000" stroke-width="1.35"/>
<text x="509.19" y="750.00" font-size="8.6" text-anchor="middle" font-weight="normal" fill="#2a2a2a"  textLength="8.90" lengthAdjust="spacingAndGlyphs">20</text>
<line x1="412.55" y1="645.38" x2="418.75" y2="645.38" stroke="#000" stroke-width="1.35"/>
<text x="412.45" y="648.38" font-size="8.6" text-anchor="end" font-weight="normal" fill="#2a2a2a"  textLength="8.90" lengthAdjust="spacingAndGlyphs">20</text>
<line x1="530.62" y1="733.90" x2="530.62" y2="740.10" stroke="#000" stroke-width="1.35"/>
<text x="530.62" y="750.00" font-size="8.6" text-anchor="middle" font-weight="normal" fill="#2a2a2a"  textLength="8.90" lengthAdjust="spacingAndGlyphs">21</text>
<line x1="412.55" y1="624.40" x2="418.75" y2="624.40" stroke="#000" stroke-width="1.35"/>
<text x="412.45" y="627.40" font-size="8.6" text-anchor="end" font-weight="normal" fill="#2a2a2a"  textLength="8.90" lengthAdjust="spacingAndGlyphs">21</text>
<rect x="418.75" y="609.30" width="127.30" height="124.60" fill="none" stroke="#161616" stroke-width="1.5"/>
<rect x="397.40" y="609.30" width="274.20" height="273.80" fill="none" stroke="#161616" stroke-width="1.5"/>
<rect x="551.60" y="788.70" width="56.50" height="85.10" fill="#fff" stroke="#161616" stroke-width="1.5"/>
<text x="569.80" y="804.50" font-size="10" text-anchor="start" font-weight="normal" fill="#0000FF" >simRes</text>
<text x="569.80" y="816.70" font-size="10" text-anchor="start" font-weight="normal" fill="#FF0000" >simLin</text>
<text x="569.80" y="828.90" font-size="10" text-anchor="start" font-weight="normal" fill="#8B1010" >simRel</text>
<text x="569.80" y="841.10" font-size="10" text-anchor="start" font-weight="normal" fill="#FF9900" >simIC</text>
<text x="569.80" y="853.30" font-size="10" text-anchor="start" font-weight="normal" fill="#00FFFF" >simJC</text>
<text x="569.80" y="865.50" font-size="10" text-anchor="start" font-weight="normal" fill="#000000" >simGIC</text>
<rect x="610.90" y="788.70" width="54.10" height="72.60" fill="#fff" stroke="#161616" stroke-width="1.5"/>
<circle cx="619.90" cy="800.90" r="2.53" fill="none" stroke="#000" stroke-width="1.35"/>
<text x="629.10" y="804.60" font-size="10" text-anchor="start" font-weight="normal" fill="#111" >fsMax</text>
<polygon points="619.90,810.41 616.86,815.69 622.94,815.69" fill="none" stroke="#000" stroke-width="1.35" stroke-linejoin="miter"/>
<text x="629.10" y="816.70" font-size="10" text-anchor="start" font-weight="normal" fill="#111" >fsAvg</text>
<path d="M616.10 825.20H623.70M619.90 821.40V829.00" stroke="#000" stroke-width="1.35" fill="none"/>
<text x="629.10" y="828.80" font-size="10" text-anchor="start" font-weight="normal" fill="#111" >fsBMM</text>
<path d="M617.14 834.60L622.65 840.11M617.14 840.11L622.65 834.60" stroke="#000" stroke-width="1.35" fill="none"/>
<text x="629.10" y="840.90" font-size="10" text-anchor="start" font-weight="normal" fill="#111" >fsBMA</text>
<path d="M619.90 846.03L623.37 849.50L619.90 852.97L616.43 849.50Z" stroke="#000" stroke-width="1.35" fill="none" stroke-linejoin="miter"/>
<text x="629.10" y="853.00" font-size="10" text-anchor="start" font-weight="normal" fill="#111" >fsABM</text>
<path d="M169.90 4.4h5.0v1.5h-1.45v5.6h1.45v1.5h-5.0v-1.5h1.45v-5.6h-1.45z" fill="#000"/>
<text x="175.80" y="13.00" font-size="12.2" text-anchor="start" font-weight="bold" fill="#000"  textLength="16.40" lengthAdjust="spacingAndGlyphs">EA</text>
<text x="192.80" y="6.90" font-size="6.6" text-anchor="start" font-weight="normal" fill="#222"  textLength="10.40" lengthAdjust="spacingAndGlyphs">(+)</text>
<path d="M529.60 4.4h5.0v1.5h-1.45v5.6h1.45v1.5h-5.0v-1.5h1.45v-5.6h-1.45z" fill="#000"/>
<text x="535.50" y="13.00" font-size="12.2" text-anchor="start" font-weight="bold" fill="#000"  textLength="16.40" lengthAdjust="spacingAndGlyphs">EA</text>
<text x="552.50" y="6.90" font-size="6.6" text-anchor="start" font-weight="normal" fill="#222"  textLength="8.20" lengthAdjust="spacingAndGlyphs">(-)</text>
<text x="1.00" y="38.60" font-size="21" text-anchor="start" font-weight="bold" fill="#000" >a</text>
<text x="351.00" y="38.60" font-size="21" text-anchor="start" font-weight="bold" fill="#000" >b</text>
<text x="1.00" y="333.80" font-size="21" text-anchor="start" font-weight="bold" fill="#000" >c</text>
<text x="351.00" y="333.80" font-size="21" text-anchor="start" font-weight="bold" fill="#000" >d</text>
<text x="1.00" y="628.70" font-size="21" text-anchor="start" font-weight="bold" fill="#000" >e</text>
<text x="351.00" y="628.70" font-size="21" text-anchor="start" font-weight="bold" fill="#000" >f</text>
<text x="327.30" y="165.70" font-size="13.2" text-anchor="start" font-weight="bold" fill="#000"  textLength="45.20" lengthAdjust="spacingAndGlyphs">human</text>
<text x="327.30" y="183.70" font-size="13.2" text-anchor="start" font-weight="bold" fill="#000"  textLength="43.40" lengthAdjust="spacingAndGlyphs">mouse</text>
<text x="327.30" y="465.30" font-size="13.2" text-anchor="start" font-weight="bold" fill="#000"  textLength="45.20" lengthAdjust="spacingAndGlyphs">human</text>
<text x="327.30" y="483.40" font-size="13.2" text-anchor="start" font-weight="bold" fill="#000"  textLength="15.40" lengthAdjust="spacingAndGlyphs">fly</text>
<text x="327.30" y="724.10" font-size="13.2" text-anchor="start" font-weight="bold" fill="#000"  textLength="43.40" lengthAdjust="spacingAndGlyphs">mouse</text>
<text x="327.30" y="742.50" font-size="13.2" text-anchor="start" font-weight="bold" fill="#000"  textLength="15.40" lengthAdjust="spacingAndGlyphs">fly</text>
<text x="0" y="0" font-size="10.6" text-anchor="middle" textLength="103.2" lengthAdjust="spacingAndGlyphs" transform="translate(18.0 157.30) rotate(-90)">Error rate (z-score) [%]</text>
<text x="0" y="0" font-size="10.6" text-anchor="middle" textLength="103.2" lengthAdjust="spacingAndGlyphs" transform="translate(18.0 452.20) rotate(-90)">Error rate (z-score) [%]</text>
<text x="0" y="0" font-size="10.6" text-anchor="middle" textLength="103.2" lengthAdjust="spacingAndGlyphs" transform="translate(18.0 747.10) rotate(-90)">Error rate (z-score) [%]</text>
<text x="175.40" y="911.30" font-size="10.6" text-anchor="middle" font-weight="normal" fill="#000"  textLength="113.20" lengthAdjust="spacingAndGlyphs">Error rate (raw score) [%]</text>
<text x="534.20" y="911.30" font-size="10.6" text-anchor="middle" font-weight="normal" fill="#000"  textLength="113.20" lengthAdjust="spacingAndGlyphs">Error rate (raw score) [%]</text>
</svg></body></html>
